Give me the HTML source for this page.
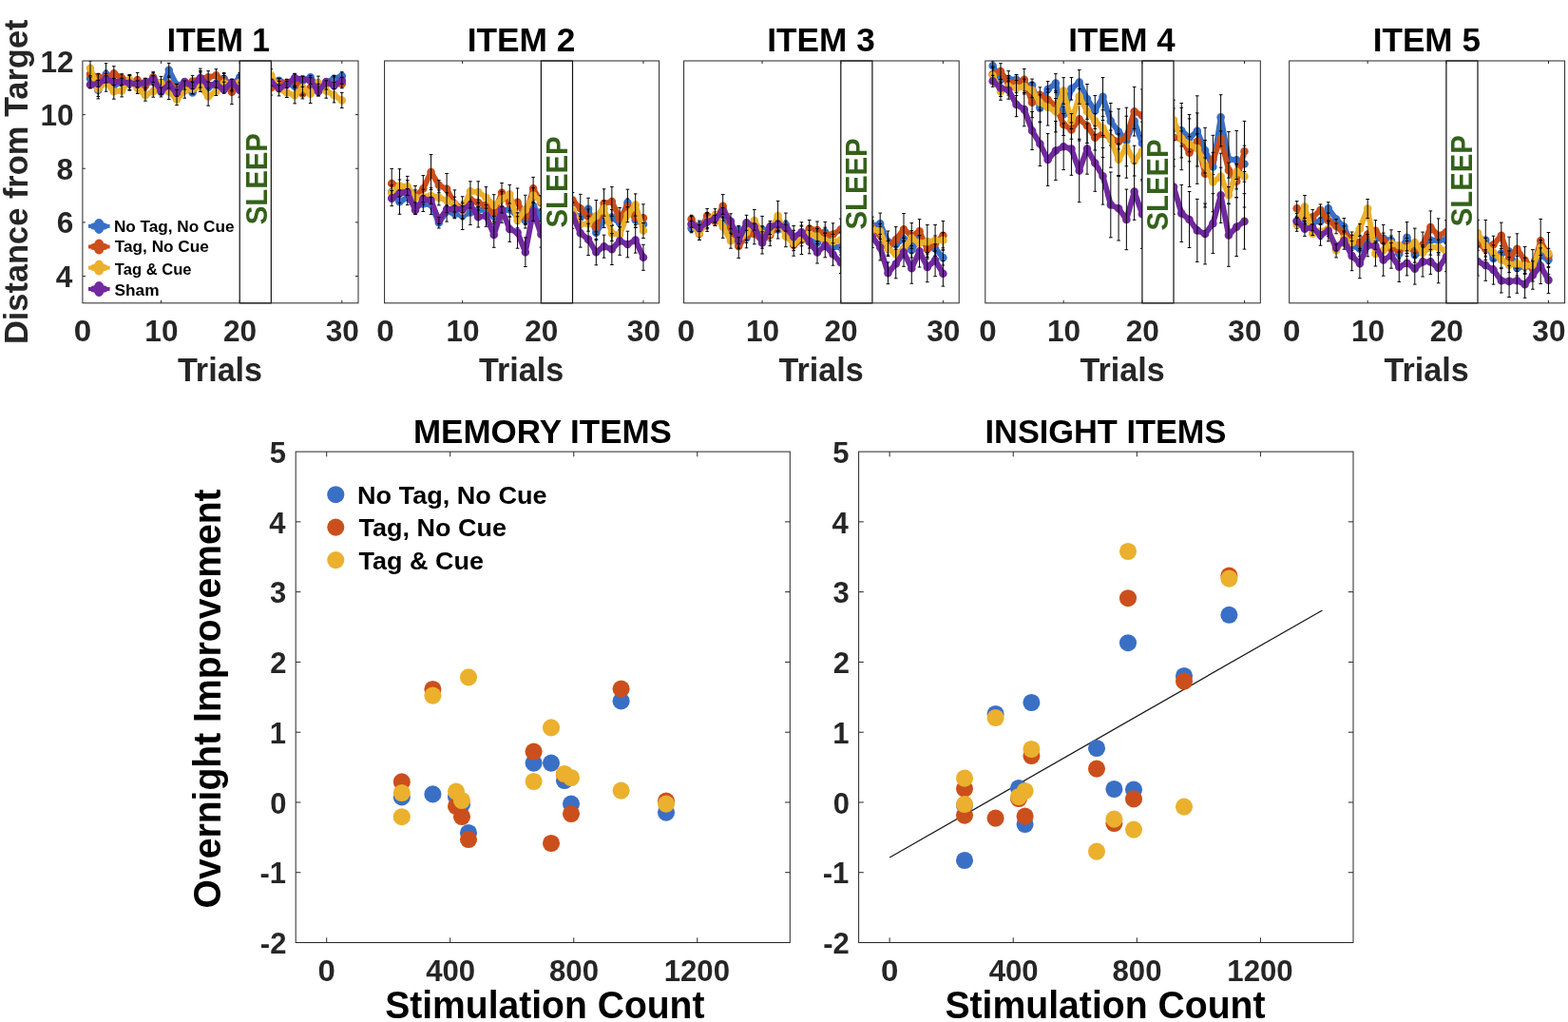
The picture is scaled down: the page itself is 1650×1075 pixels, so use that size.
<!DOCTYPE html>
<html lang="en"><head><meta charset="utf-8"><title>Figure</title>
<style>html,body{margin:0;padding:0;background:#fff;}body{width:1650px;height:1075px;overflow:hidden;}svg{display:block;}text{font-family:"Liberation Sans", Arial, Helvetica, sans-serif;font-weight:bold;}</style></head><body>
<svg width="1650" height="1075" viewBox="0 0 1650 1075">
<rect width="1650" height="1075" fill="#fff"/>
<defs>
<clipPath id="c0"><rect x="86.9" y="64" width="290.1" height="254.8"/></clipPath>
<clipPath id="c1"><rect x="404.6" y="64" width="289" height="254.8"/></clipPath>
<clipPath id="c2"><rect x="719.6" y="64" width="289.6" height="254.8"/></clipPath>
<clipPath id="c3"><rect x="1036.8" y="64" width="289.5" height="254.8"/></clipPath>
<clipPath id="c4"><rect x="1356.7" y="64" width="289.9" height="254.8"/></clipPath>
</defs>
<g id="item1">
<g clip-path="url(#c0)">
<polyline points="95.02,82.4 103.3,94.8 111.57,78.4 119.85,89.8 128.12,86.8 136.39,87.5 144.67,88.8 152.94,89.5 161.22,84.8 169.49,96.8 177.76,73.7 186.04,89.5 194.31,88 202.59,97.5 210.86,84 219.13,92 227.41,88 235.68,82.8 243.96,90 252.23,81.4" fill="none" stroke="#3a6fc6" stroke-width="5.9" stroke-linejoin="round" stroke-linecap="round"/>
<polyline points="285.33,85 293.6,84.8 301.87,88 310.15,90.8 318.42,85 326.7,81.4 334.97,92 343.24,87 351.52,82.8 359.79,80.1" fill="none" stroke="#3a6fc6" stroke-width="5.9" stroke-linejoin="round" stroke-linecap="round"/>
<path d="M95.02 82.4h0M103.3 94.8h0M111.57 78.4h0M119.85 89.8h0M128.12 86.8h0M136.39 87.5h0M144.67 88.8h0M152.94 89.5h0M161.22 84.8h0M169.49 96.8h0M177.76 73.7h0M186.04 89.5h0M194.31 88h0M202.59 97.5h0M210.86 84h0M219.13 92h0M227.41 88h0M235.68 82.8h0M243.96 90h0M252.23 81.4h0M285.33 85h0M293.6 84.8h0M301.87 88h0M310.15 90.8h0M318.42 85h0M326.7 81.4h0M334.97 92h0M343.24 87h0M351.52 82.8h0M359.79 80.1h0" fill="none" stroke="#3a6fc6" stroke-width="8.6" stroke-linecap="round"/>
<path d="M95.02 74.4V90.4M93.22 74.4H96.82M93.22 90.4H96.82M103.3 85.7V103.9M101.5 85.7H105.1M101.5 103.9H105.1M111.57 66.7V90.1M109.77 66.7H113.37M109.77 90.1H113.37M119.85 81.8V97.8M118.05 81.8H121.65M118.05 97.8H121.65M128.12 78.8V94.8M126.32 78.8H129.92M126.32 94.8H129.92M136.39 79.5V94.8M134.59 79.5H138.19M134.59 94.8H138.19M144.67 80.8V96.8M142.87 80.8H146.47M142.87 96.8H146.47M152.94 82.4V97.5M151.14 82.4H154.74M151.14 97.5H154.74M161.22 76.8V92.8M159.42 76.8H163.02M159.42 92.8H163.02M169.49 88.8V101.9M167.69 88.8H171.29M167.69 101.9H171.29M177.76 66.4V81.7M175.96 66.4H179.56M175.96 81.7H179.56M186.04 88.4V97.5M184.24 88.4H187.84M184.24 97.5H187.84M194.31 85V96M192.51 85H196.11M192.51 96H196.11M202.59 89.5V98.8M200.79 89.5H204.39M200.79 98.8H204.39M210.86 76V92M209.06 76H212.66M209.06 92H212.66M219.13 84V100M217.33 84H220.93M217.33 100H220.93M227.41 80V96M225.61 80H229.21M225.61 96H229.21M235.68 76.4V90.8M233.88 76.4H237.48M233.88 90.8H237.48M243.96 83.4V98M242.16 83.4H245.76M242.16 98H245.76M252.23 76.4V89.4M250.43 76.4H254.03M250.43 89.4H254.03M285.33 77V93M283.53 77H287.13M283.53 93H287.13M293.6 82.4V92.8M291.8 82.4H295.4M291.8 92.8H295.4M301.87 83.4V96M300.07 83.4H303.67M300.07 96H303.67M310.15 82.8V98.8M308.35 82.8H311.95M308.35 98.8H311.95M318.42 80.4V93M316.62 80.4H320.22M316.62 93H320.22M326.7 79.4V89.4M324.9 79.4H328.5M324.9 89.4H328.5M334.97 84V100M333.17 84H336.77M333.17 100H336.77M343.24 84.8V95M341.44 84.8H345.04M341.44 95H345.04M351.52 79.4V90.8M349.72 79.4H353.32M349.72 90.8H353.32M359.79 75.7V88.1M357.99 75.7H361.59M357.99 88.1H361.59" fill="none" stroke="#000" stroke-width="1.0"/>
<polyline points="95.02,78.1 103.3,80.8 111.57,82 119.85,77.4 128.12,82.1 136.39,86.8 144.67,84.4 152.94,90.1 161.22,81.4 169.49,91.5 177.76,88.1 186.04,93.5 194.31,90 202.59,85.5 210.86,82.5 219.13,81.4 227.41,79.4 235.68,85.5 243.96,96.8 252.23,90" fill="none" stroke="#cb4f1c" stroke-width="5.9" stroke-linejoin="round" stroke-linecap="round"/>
<polyline points="285.33,92.2 293.6,88.1 301.87,87 310.15,84 318.42,98.5 326.7,92.5 334.97,93 343.24,88 351.52,89 359.79,88.1" fill="none" stroke="#cb4f1c" stroke-width="5.9" stroke-linejoin="round" stroke-linecap="round"/>
<path d="M95.02 78.1h0M103.3 80.8h0M111.57 82h0M119.85 77.4h0M128.12 82.1h0M136.39 86.8h0M144.67 84.4h0M152.94 90.1h0M161.22 81.4h0M169.49 91.5h0M177.76 88.1h0M186.04 93.5h0M194.31 90h0M202.59 85.5h0M210.86 82.5h0M219.13 81.4h0M227.41 79.4h0M235.68 85.5h0M243.96 96.8h0M252.23 90h0M285.33 92.2h0M293.6 88.1h0M301.87 87h0M310.15 84h0M318.42 98.5h0M326.7 92.5h0M334.97 93h0M343.24 88h0M351.52 89h0M359.79 88.1h0" fill="none" stroke="#cb4f1c" stroke-width="8.6" stroke-linecap="round"/>
<path d="M95.02 70.1V86.1M93.22 70.1H96.82M93.22 86.1H96.82M103.3 77.7V88.8M101.5 77.7H105.1M101.5 88.8H105.1M111.57 74V90M109.77 74H113.37M109.77 90H113.37M119.85 69.7V85.4M118.05 69.7H121.65M118.05 85.4H121.65M128.12 77.7V90.1M126.32 77.7H129.92M126.32 90.1H129.92M136.39 78.8V94.8M134.59 78.8H138.19M134.59 94.8H138.19M144.67 76.4V92.4M142.87 76.4H146.47M142.87 92.4H146.47M152.94 82.4V98.1M151.14 82.4H154.74M151.14 98.1H154.74M161.22 75.7V89.4M159.42 75.7H163.02M159.42 89.4H163.02M169.49 83.5V99.5M167.69 83.5H171.29M167.69 99.5H171.29M177.76 80.1V96.1M175.96 80.1H179.56M175.96 96.1H179.56M186.04 88.4V101.5M184.24 88.4H187.84M184.24 101.5H187.84M194.31 85V98M192.51 85H196.11M192.51 98H196.11M202.59 79.4V93.5M200.79 79.4H204.39M200.79 93.5H204.39M210.86 74.5V90.5M209.06 74.5H212.66M209.06 90.5H212.66M219.13 74.7V89.4M217.33 74.7H220.93M217.33 89.4H220.93M227.41 72.7V87.4M225.61 72.7H229.21M225.61 87.4H229.21M235.68 77.5V93.5M233.88 77.5H237.48M233.88 93.5H237.48M243.96 84V109.6M242.16 84H245.76M242.16 109.6H245.76M252.23 82V98M250.43 82H254.03M250.43 98H254.03M285.33 84.2V100M283.53 84.2H287.13M283.53 100H287.13M293.6 82.4V96.1M291.8 82.4H295.4M291.8 96.1H295.4M301.87 83.4V95M300.07 83.4H303.67M300.07 95H303.67M310.15 77.4V92M308.35 77.4H311.95M308.35 92H311.95M318.42 90.5V103.9M316.62 90.5H320.22M316.62 103.9H320.22M326.7 84.5V100.5M324.9 84.5H328.5M324.9 100.5H328.5M334.97 85V100.9M333.17 85H336.77M333.17 100.9H336.77M343.24 84.8V96M341.44 84.8H345.04M341.44 96H345.04M351.52 81V97M349.72 81H353.32M349.72 97H353.32M359.79 83.1V92.8M357.99 83.1H361.59M357.99 92.8H361.59" fill="none" stroke="#000" stroke-width="1.0"/>
<polyline points="95.02,71.7 103.3,93.5 111.57,86.8 119.85,96.2 128.12,95.5 136.39,84.1 144.67,92.8 152.94,100.2 161.22,96.2 169.49,87.5 177.76,96.5 186.04,104.5 194.31,95.5 202.59,93.5 210.86,91.5 219.13,101.5 227.41,96.2 235.68,87.5 243.96,88 252.23,86.8" fill="none" stroke="#ebb02d" stroke-width="5.9" stroke-linejoin="round" stroke-linecap="round"/>
<polyline points="285.33,79.4 293.6,93.5 301.87,97.5 310.15,100.2 318.42,92 326.7,98.8 334.97,87.5 343.24,95.5 351.52,100.2 359.79,105.5" fill="none" stroke="#ebb02d" stroke-width="5.9" stroke-linejoin="round" stroke-linecap="round"/>
<path d="M95.02 71.7h0M103.3 93.5h0M111.57 86.8h0M119.85 96.2h0M128.12 95.5h0M136.39 84.1h0M144.67 92.8h0M152.94 100.2h0M161.22 96.2h0M169.49 87.5h0M177.76 96.5h0M186.04 104.5h0M194.31 95.5h0M202.59 93.5h0M210.86 91.5h0M219.13 101.5h0M227.41 96.2h0M235.68 87.5h0M243.96 88h0M252.23 86.8h0M285.33 79.4h0M293.6 93.5h0M301.87 97.5h0M310.15 100.2h0M318.42 92h0M326.7 98.8h0M334.97 87.5h0M343.24 95.5h0M351.52 100.2h0M359.79 105.5h0" fill="none" stroke="#ebb02d" stroke-width="8.6" stroke-linecap="round"/>
<path d="M95.02 64V79.7M93.22 64H96.82M93.22 79.7H96.82M103.3 85.5V101.5M101.5 85.5H105.1M101.5 101.5H105.1M111.57 77.4V96.2M109.77 77.4H113.37M109.77 96.2H113.37M119.85 88.2V104.2M118.05 88.2H121.65M118.05 104.2H121.65M128.12 87.5V101.9M126.32 87.5H129.92M126.32 101.9H129.92M136.39 78.4V92.1M134.59 78.4H138.19M134.59 92.1H138.19M144.67 84.8V98.5M142.87 84.8H146.47M142.87 98.5H146.47M152.94 92.2V106.2M151.14 92.2H154.74M151.14 106.2H154.74M161.22 88.2V102.2M159.42 88.2H163.02M159.42 102.2H163.02M169.49 80.4V95.5M167.69 80.4H171.29M167.69 95.5H171.29M177.76 88.5V104.5M175.96 88.5H179.56M175.96 104.5H179.56M186.04 96.5V110.6M184.24 96.5H187.84M184.24 110.6H187.84M194.31 87.5V103.2M192.51 87.5H196.11M192.51 103.2H196.11M202.59 85.5V98.8M200.79 85.5H204.39M200.79 98.8H204.39M210.86 83.5V96.5M209.06 83.5H212.66M209.06 96.5H212.66M219.13 91.8V111.2M217.33 91.8H220.93M217.33 111.2H220.93M227.41 88.2V100.5M225.61 88.2H229.21M225.61 100.5H229.21M235.68 79.5V95.5M233.88 79.5H237.48M233.88 95.5H237.48M243.96 83.4V96M242.16 83.4H245.76M242.16 96H245.76M252.23 78.8V94.8M250.43 78.8H254.03M250.43 94.8H254.03M285.33 72.7V87.4M283.53 72.7H287.13M283.53 87.4H287.13M293.6 85.5V100.9M291.8 85.5H295.4M291.8 100.9H295.4M301.87 89.5V102.5M300.07 89.5H303.67M300.07 102.5H303.67M310.15 91.5V108.9M308.35 91.5H311.95M308.35 108.9H311.95M318.42 84V100M316.62 84H320.22M316.62 100H320.22M326.7 89V108.6M324.9 89H328.5M324.9 108.6H328.5M334.97 80.1V95.5M333.17 80.1H336.77M333.17 95.5H336.77M343.24 87.5V103.2M341.44 87.5H345.04M341.44 103.2H345.04M351.52 92.2V107.9M349.72 92.2H353.32M349.72 107.9H353.32M359.79 97.4V113.6M357.99 97.4H361.59M357.99 113.6H361.59" fill="none" stroke="#000" stroke-width="1.0"/>
<polyline points="95.02,89.1 103.3,87.8 111.57,83.4 119.85,86.1 128.12,85.8 136.39,87.5 144.67,88.5 152.94,86.8 161.22,83.1 169.49,95.5 177.76,89.5 186.04,97.8 194.31,86.1 202.59,90.1 210.86,82.1 219.13,89.5 227.41,88.8 235.68,94.2 243.96,86.8 252.23,94.8" fill="none" stroke="#7129a0" stroke-width="5.9" stroke-linejoin="round" stroke-linecap="round"/>
<polyline points="285.33,86.8 293.6,92.8 301.87,88.8 310.15,82.1 318.42,83.4 326.7,84.8 334.97,96.2 343.24,86.1 351.52,90.1 359.79,84.8" fill="none" stroke="#7129a0" stroke-width="5.9" stroke-linejoin="round" stroke-linecap="round"/>
<path d="M95.02 89.1h0M103.3 87.8h0M111.57 83.4h0M119.85 86.1h0M128.12 85.8h0M136.39 87.5h0M144.67 88.5h0M152.94 86.8h0M161.22 83.1h0M169.49 95.5h0M177.76 89.5h0M186.04 97.8h0M194.31 86.1h0M202.59 90.1h0M210.86 82.1h0M219.13 89.5h0M227.41 88.8h0M235.68 94.2h0M243.96 86.8h0M252.23 94.8h0M285.33 86.8h0M293.6 92.8h0M301.87 88.8h0M310.15 82.1h0M318.42 83.4h0M326.7 84.8h0M334.97 96.2h0M343.24 86.1h0M351.52 90.1h0M359.79 84.8h0" fill="none" stroke="#7129a0" stroke-width="8.6" stroke-linecap="round"/>
<path d="M95.02 81.1V92.8M93.22 81.1H96.82M93.22 92.8H96.82M103.3 84.3V91.3M101.5 84.3H105.1M101.5 91.3H105.1M111.57 79.9V86.9M109.77 79.9H113.37M109.77 86.9H113.37M119.85 82.6V89.6M118.05 82.6H121.65M118.05 89.6H121.65M128.12 82.3V89.3M126.32 82.3H129.92M126.32 89.3H129.92M136.39 79.5V94.8M134.59 79.5H138.19M134.59 94.8H138.19M144.67 85V92M142.87 85H146.47M142.87 92H146.47M152.94 82.4V94.8M151.14 82.4H154.74M151.14 94.8H154.74M161.22 79.6V86.6M159.42 79.6H163.02M159.42 86.6H163.02M169.49 92V99M167.69 92H171.29M167.69 99H171.29M177.76 86V93M175.96 86H179.56M175.96 93H179.56M186.04 94.3V101.3M184.24 94.3H187.84M184.24 101.3H187.84M194.31 85V94.1M192.51 85H196.11M192.51 94.1H196.11M202.59 86.6V93.6M200.79 86.6H204.39M200.79 93.6H204.39M210.86 72.1V92.1M209.06 72.1H212.66M209.06 92.1H212.66M219.13 86V93M217.33 86H220.93M217.33 93H220.93M227.41 85.3V92.3M225.61 85.3H229.21M225.61 92.3H229.21M235.68 86.2V98.2M233.88 86.2H237.48M233.88 98.2H237.48M243.96 83.4V94.8M242.16 83.4H245.76M242.16 94.8H245.76M252.23 86.8V102.2M250.43 86.8H254.03M250.43 102.2H254.03M285.33 83.3V90.3M283.53 83.3H287.13M283.53 90.3H287.13M293.6 89.3V96.3M291.8 89.3H295.4M291.8 96.3H295.4M301.87 85.3V92.3M300.07 85.3H303.67M300.07 92.3H303.67M310.15 77.4V90.1M308.35 77.4H311.95M308.35 90.1H311.95M318.42 80.4V91.4M316.62 80.4H320.22M316.62 91.4H320.22M326.7 81.3V88.3M324.9 81.3H328.5M324.9 88.3H328.5M334.97 88.2V100.9M333.17 88.2H336.77M333.17 100.9H336.77M343.24 84.8V94.1M341.44 84.8H345.04M341.44 94.1H345.04M351.52 86.6V93.6M349.72 86.6H353.32M349.72 93.6H353.32M359.79 81.3V88.3M357.99 81.3H361.59M357.99 88.3H361.59" fill="none" stroke="#000" stroke-width="1.0"/>
</g>
<rect x="252.23" y="64" width="33.1" height="254.8" fill="#fff" stroke="#111" stroke-width="1.2"/>
<text font-size="31.8" fill="#34611a" transform="translate(280.63 236.33) rotate(-90) scale(0.9224 1)">SLEEP</text>
<rect x="86.9" y="64" width="290.1" height="254.8" fill="none" stroke="#262626" stroke-width="1"/>
<path d="M169.49 318.8v-3M169.49 64v3M252.23 318.8v-3M252.23 64v3M359.79 318.8v-3M359.79 64v3M86.9 290.49h3M377 290.49h-3M86.9 233.87h3M377 233.87h-3M86.9 177.24h3M377 177.24h-3M86.9 120.62h3M377 120.62h-3" fill="none" stroke="#262626" stroke-width="1"/>
<text font-size="31.6" fill="#262626" transform="translate(77.69 359.3) scale(1.0500 1)">0</text>
<text font-size="31.6" fill="#262626" transform="translate(152.36 359.3) scale(1.0000 1)">10</text>
<text font-size="31.6" fill="#262626" transform="translate(234.97 359.3) scale(1.0000 1)">20</text>
<text font-size="31.6" fill="#262626" transform="translate(342.69 359.3) scale(1.0000 1)">30</text>
<text font-size="34.5" fill="#262626" transform="translate(186.89 401.3) scale(0.9900 1)">Trials</text>
<text font-size="35.2" fill="#000" transform="translate(175.82 54.3) scale(0.9530 1)">ITEM 1</text>
<text font-size="31.6" fill="#262626" transform="translate(58.82 302.09) scale(1.0000 1)">4</text>
<text font-size="31.6" fill="#262626" transform="translate(59.77 245.47) scale(1.0000 1)">6</text>
<text font-size="31.6" fill="#262626" transform="translate(59.61 188.84) scale(1.0000 1)">8</text>
<text font-size="31.6" fill="#262626" transform="translate(42.39 132.22) scale(1.0000 1)">10</text>
<text font-size="31.6" fill="#262626" transform="translate(42.39 75.6) scale(1.0000 1)">12</text>
<text font-size="35.2" fill="#262626" transform="translate(29 362.04) rotate(-90) scale(0.9774 1)">Distance from Target</text>
<path d="M93 237.9H115.6" stroke="#3a6fc6" stroke-width="4" fill="none"/>
<path d="M98.6 237.9H109.8M101 237.9H107.4" stroke="#3a6fc6" stroke-width="7" stroke-linecap="round" fill="none"/>
<ellipse cx="104.2" cy="237.9" rx="5.6" ry="8" fill="#3a6fc6"/>
<text font-size="17.4" fill="#000" transform="translate(119.88 243.8) scale(0.9882 1)">No Tag, No Cue</text>
<path d="M93 259.5H115.6" stroke="#cb4f1c" stroke-width="4" fill="none"/>
<path d="M98.6 259.5H109.8M101 259.5H107.4" stroke="#cb4f1c" stroke-width="7" stroke-linecap="round" fill="none"/>
<ellipse cx="104.2" cy="259.5" rx="5.6" ry="8" fill="#cb4f1c"/>
<text font-size="17.4" fill="#000" transform="translate(120.83 265) scale(0.9875 1)">Tag, No Cue</text>
<path d="M93 281.6H115.6" stroke="#ebb02d" stroke-width="4" fill="none"/>
<path d="M98.6 281.6H109.8M101 281.6H107.4" stroke="#ebb02d" stroke-width="7" stroke-linecap="round" fill="none"/>
<ellipse cx="104.2" cy="281.6" rx="5.6" ry="8" fill="#ebb02d"/>
<text font-size="17.4" fill="#000" transform="translate(120.83 288.8) scale(0.9529 1)">Tag &amp; Cue</text>
<path d="M93 304H115.6" stroke="#7129a0" stroke-width="4" fill="none"/>
<path d="M98.6 304H109.8M101 304H107.4" stroke="#7129a0" stroke-width="7" stroke-linecap="round" fill="none"/>
<ellipse cx="104.2" cy="304" rx="5.6" ry="8" fill="#7129a0"/>
<text font-size="17.4" fill="#000" transform="translate(120.48 310.6) scale(0.9921 1)">Sham</text>
</g>
<g id="item2">
<g clip-path="url(#c1)">
<polyline points="412.2,202.1 420.48,212.3 428.75,207.9 437.03,217.4 445.3,214.5 453.57,215.2 461.85,234.2 470.12,222.5 478.4,224.6 486.67,226.8 494.94,223.5 503.22,221 511.49,220.6 519.77,227.5 528.04,222 536.31,220.2 544.59,227.5 552.86,232 561.14,216.5 569.41,229" fill="none" stroke="#3a6fc6" stroke-width="5.9" stroke-linejoin="round" stroke-linecap="round"/>
<polyline points="602.51,224 610.78,228.6 619.05,219.9 627.33,244.8 635.6,231.5 643.88,228.6 652.15,234.5 660.42,213.4 668.7,231.5 676.97,235.9" fill="none" stroke="#3a6fc6" stroke-width="5.9" stroke-linejoin="round" stroke-linecap="round"/>
<path d="M412.2 202.1h0M420.48 212.3h0M428.75 207.9h0M437.03 217.4h0M445.3 214.5h0M453.57 215.2h0M461.85 234.2h0M470.12 222.5h0M478.4 224.6h0M486.67 226.8h0M494.94 223.5h0M503.22 221h0M511.49 220.6h0M519.77 227.5h0M528.04 222h0M536.31 220.2h0M544.59 227.5h0M552.86 232h0M561.14 216.5h0M569.41 229h0M602.51 224h0M610.78 228.6h0M619.05 219.9h0M627.33 244.8h0M635.6 231.5h0M643.88 228.6h0M652.15 234.5h0M660.42 213.4h0M668.7 231.5h0M676.97 235.9h0" fill="none" stroke="#3a6fc6" stroke-width="8.6" stroke-linecap="round"/>
<path d="M412.2 194.1V210.1M410.4 194.1H414M410.4 210.1H414M420.48 199.3V225.3M418.68 199.3H422.28M418.68 225.3H422.28M428.75 199.9V215.6M426.95 199.9H430.55M426.95 215.6H430.55M437.03 209.4V225.4M435.23 209.4H438.83M435.23 225.4H438.83M445.3 206.5V222.5M443.5 206.5H447.1M443.5 222.5H447.1M453.57 204.9V225.5M451.77 204.9H455.37M451.77 225.5H455.37M461.85 226.2V240M460.05 226.2H463.65M460.05 240H463.65M470.12 211.9V233.1M468.32 211.9H471.92M468.32 233.1H471.92M478.4 216.6V229.8M476.6 216.6H480.2M476.6 229.8H480.2M486.67 212.1V241.5M484.87 212.1H488.47M484.87 241.5H488.47M494.94 210.6V236.4M493.14 210.6H496.74M493.14 236.4H496.74M503.22 213V229M501.42 213H505.02M501.42 229H505.02M511.49 212.6V228.6M509.69 212.6H513.29M509.69 228.6H513.29M519.77 219.5V235.5M517.97 219.5H521.57M517.97 235.5H521.57M528.04 209.7V234.3M526.24 209.7H529.84M526.24 234.3H529.84M536.31 212.2V228.2M534.51 212.2H538.11M534.51 228.2H538.11M544.59 219.5V235.5M542.79 219.5H546.39M542.79 235.5H546.39M552.86 224V240M551.06 224H554.66M551.06 240H554.66M561.14 208.5V224.5M559.34 208.5H562.94M559.34 224.5H562.94M569.41 221V237M567.61 221H571.21M567.61 237H571.21M602.51 216V232M600.71 216H604.31M600.71 232H604.31M610.78 220.6V236.6M608.98 220.6H612.58M608.98 236.6H612.58M619.05 208.3V231.5M617.25 208.3H620.85M617.25 231.5H620.85M627.33 236.8V252.8M625.53 236.8H629.13M625.53 252.8H629.13M635.6 223.5V239.5M633.8 223.5H637.4M633.8 239.5H637.4M643.88 220.6V236.6M642.08 220.6H645.68M642.08 236.6H645.68M652.15 226.5V242.5M650.35 226.5H653.95M650.35 242.5H653.95M660.42 199.2V227.6M658.62 199.2H662.22M658.62 227.6H662.22M668.7 223.5V239.5M666.9 223.5H670.5M666.9 239.5H670.5M676.97 227.9V243.9M675.17 227.9H678.77M675.17 243.9H678.77" fill="none" stroke="#000" stroke-width="1.0"/>
<polyline points="412.2,193 420.48,197 428.75,197.7 437.03,206.5 445.3,198.5 453.57,181 461.85,194.8 470.12,198.8 478.4,214.5 486.67,218.8 494.94,210.1 503.22,213 511.49,216.6 519.77,224 528.04,202.7 536.31,213.6 544.59,212.9 552.86,228.2 561.14,198.4 569.41,213" fill="none" stroke="#cb4f1c" stroke-width="5.9" stroke-linejoin="round" stroke-linecap="round"/>
<polyline points="602.51,210.5 610.78,219.2 619.05,228 627.33,238.8 635.6,214.1 643.88,212 652.15,230.1 660.42,217 668.7,228.6 676.97,229.4" fill="none" stroke="#cb4f1c" stroke-width="5.9" stroke-linejoin="round" stroke-linecap="round"/>
<path d="M412.2 193h0M420.48 197h0M428.75 197.7h0M437.03 206.5h0M445.3 198.5h0M453.57 181h0M461.85 194.8h0M470.12 198.8h0M478.4 214.5h0M486.67 218.8h0M494.94 210.1h0M503.22 213h0M511.49 216.6h0M519.77 224h0M528.04 202.7h0M536.31 213.6h0M544.59 212.9h0M552.86 228.2h0M561.14 198.4h0M569.41 213h0M602.51 210.5h0M610.78 219.2h0M619.05 228h0M627.33 238.8h0M635.6 214.1h0M643.88 212h0M652.15 230.1h0M660.42 217h0M668.7 228.6h0M676.97 229.4h0" fill="none" stroke="#cb4f1c" stroke-width="8.6" stroke-linecap="round"/>
<path d="M412.2 177.4V208.6M410.4 177.4H414M410.4 208.6H414M420.48 189V205M418.68 189H422.28M418.68 205H422.28M428.75 189.7V205.7M426.95 189.7H430.55M426.95 205.7H430.55M437.03 195.5V217.5M435.23 195.5H438.83M435.23 217.5H438.83M445.3 184.6V212.4M443.5 184.6H447.1M443.5 212.4H447.1M453.57 162.5V199.5M451.77 162.5H455.37M451.77 199.5H455.37M461.85 189.7V202.8M460.05 189.7H463.65M460.05 202.8H463.65M470.12 182.5V215.1M468.32 182.5H471.92M468.32 215.1H471.92M478.4 199.9V229.1M476.6 199.9H480.2M476.6 229.1H480.2M486.67 206.8V230.8M484.87 206.8H488.47M484.87 230.8H488.47M494.94 202.1V218.1M493.14 202.1H496.74M493.14 218.1H496.74M503.22 205V221M501.42 205H505.02M501.42 221H505.02M511.49 208.6V224.6M509.69 208.6H513.29M509.69 224.6H513.29M519.77 216V232M517.97 216H521.57M517.97 232H521.57M528.04 192.5V212.9M526.24 192.5H529.84M526.24 212.9H529.84M536.31 205.6V221.6M534.51 205.6H538.11M534.51 221.6H538.11M544.59 198V227.8M542.79 198H546.39M542.79 227.8H546.39M552.86 220.2V236.2M551.06 220.2H554.66M551.06 236.2H554.66M561.14 186.4V210.4M559.34 186.4H562.94M559.34 210.4H562.94M569.41 205.6V221M567.61 205.6H571.21M567.61 221H571.21M602.51 202.5V218.5M600.71 202.5H604.31M600.71 218.5H604.31M610.78 204.3V234.1M608.98 204.3H612.58M608.98 234.1H612.58M619.05 220V236M617.25 220H620.85M617.25 236H620.85M627.33 230.8V246.8M625.53 230.8H629.13M625.53 246.8H629.13M635.6 198.8V229.4M633.8 198.8H637.4M633.8 229.4H637.4M643.88 196.6V227.4M642.08 196.6H645.68M642.08 227.4H645.68M652.15 218.5V241.7M650.35 218.5H653.95M650.35 241.7H653.95M660.42 209V225M658.62 209H662.22M658.62 225H662.22M668.7 220.6V236.6M666.9 220.6H670.5M666.9 236.6H670.5M676.97 214.8V244M675.17 214.8H678.77M675.17 244H678.77" fill="none" stroke="#000" stroke-width="1.0"/>
<polyline points="412.2,202.8 420.48,195.5 428.75,196.3 437.03,207.9 445.3,207.2 453.57,205.7 461.85,207.9 470.12,210.8 478.4,215.2 486.67,221.7 494.94,201.4 503.22,202.1 511.49,207.9 519.77,216 528.04,209.3 536.31,204.2 544.59,231.8 552.86,220.5 561.14,205.6 569.41,211.7" fill="none" stroke="#ebb02d" stroke-width="5.9" stroke-linejoin="round" stroke-linecap="round"/>
<polyline points="602.51,221.4 610.78,235.9 619.05,235.2 627.33,227.2 635.6,219.2 643.88,245.4 652.15,246.8 660.42,225.7 668.7,215.5 676.97,242.5" fill="none" stroke="#ebb02d" stroke-width="5.9" stroke-linejoin="round" stroke-linecap="round"/>
<path d="M412.2 202.8h0M420.48 195.5h0M428.75 196.3h0M437.03 207.9h0M445.3 207.2h0M453.57 205.7h0M461.85 207.9h0M470.12 210.8h0M478.4 215.2h0M486.67 221.7h0M494.94 201.4h0M503.22 202.1h0M511.49 207.9h0M519.77 216h0M528.04 209.3h0M536.31 204.2h0M544.59 231.8h0M552.86 220.5h0M561.14 205.6h0M569.41 211.7h0M602.51 221.4h0M610.78 235.9h0M619.05 235.2h0M627.33 227.2h0M635.6 219.2h0M643.88 245.4h0M652.15 246.8h0M660.42 225.7h0M668.7 215.5h0M676.97 242.5h0" fill="none" stroke="#ebb02d" stroke-width="8.6" stroke-linecap="round"/>
<path d="M412.2 194.8V210.8M410.4 194.8H414M410.4 210.8H414M420.48 177.7V213.3M418.68 177.7H422.28M418.68 213.3H422.28M428.75 185.4V207.2M426.95 185.4H430.55M426.95 207.2H430.55M437.03 199.9V215.9M435.23 199.9H438.83M435.23 215.9H438.83M445.3 199.2V215.2M443.5 199.2H447.1M443.5 215.2H447.1M453.57 197.7V213.7M451.77 197.7H455.37M451.77 213.7H455.37M461.85 199.9V215.9M460.05 199.9H463.65M460.05 215.9H463.65M470.12 202.8V218.8M468.32 202.8H471.92M468.32 218.8H471.92M478.4 207.2V223.2M476.6 207.2H480.2M476.6 223.2H480.2M486.67 213.7V229.7M484.87 213.7H488.47M484.87 229.7H488.47M494.94 190.8V212M493.14 190.8H496.74M493.14 212H496.74M503.22 190.8V213.4M501.42 190.8H505.02M501.42 213.4H505.02M511.49 196.6V219.2M509.69 196.6H513.29M509.69 219.2H513.29M519.77 204.7V227.3M517.97 204.7H521.57M517.97 227.3H521.57M528.04 201.3V217.3M526.24 201.3H529.84M526.24 217.3H529.84M536.31 194.4V214M534.51 194.4H538.11M534.51 214H538.11M544.59 223.8V239.8M542.79 223.8H546.39M542.79 239.8H546.39M552.86 205.3V235.7M551.06 205.3H554.66M551.06 235.7H554.66M561.14 197.6V213.6M559.34 197.6H562.94M559.34 213.6H562.94M569.41 205.6V219.7M567.61 205.6H571.21M567.61 219.7H571.21M602.51 213.4V229.4M600.71 213.4H604.31M600.71 229.4H604.31M610.78 227.9V243.9M608.98 227.9H612.58M608.98 243.9H612.58M619.05 227.2V243.2M617.25 227.2H620.85M617.25 243.2H620.85M627.33 210.5V243.9M625.53 210.5H629.13M625.53 243.9H629.13M635.6 211.2V227.2M633.8 211.2H637.4M633.8 227.2H637.4M643.88 237.4V253.4M642.08 237.4H645.68M642.08 253.4H645.68M652.15 238.8V254.8M650.35 238.8H653.95M650.35 254.8H653.95M660.42 217.7V233.7M658.62 217.7H662.22M658.62 233.7H662.22M668.7 203.9V227.1M666.9 203.9H670.5M666.9 227.1H670.5M676.97 234.5V250.5M675.17 234.5H678.77M675.17 250.5H678.77" fill="none" stroke="#000" stroke-width="1.0"/>
<polyline points="412.2,208.6 420.48,203.5 428.75,202.1 437.03,221 445.3,209.4 453.57,210.8 461.85,232 470.12,220.3 478.4,219.5 486.67,220.3 494.94,215.5 503.22,228.3 511.49,227 519.77,247 528.04,220.5 536.31,241 544.59,244.5 552.86,265.2 561.14,222.3 569.41,246.5" fill="none" stroke="#7129a0" stroke-width="5.9" stroke-linejoin="round" stroke-linecap="round"/>
<polyline points="602.51,226.5 610.78,245.3 619.05,251.9 627.33,265.2 635.6,259.2 643.88,262.1 652.15,253.4 660.42,257 668.7,252.6 676.97,270.8" fill="none" stroke="#7129a0" stroke-width="5.9" stroke-linejoin="round" stroke-linecap="round"/>
<path d="M412.2 208.6h0M420.48 203.5h0M428.75 202.1h0M437.03 221h0M445.3 209.4h0M453.57 210.8h0M461.85 232h0M470.12 220.3h0M478.4 219.5h0M486.67 220.3h0M494.94 215.5h0M503.22 228.3h0M511.49 227h0M519.77 247h0M528.04 220.5h0M536.31 241h0M544.59 244.5h0M552.86 265.2h0M561.14 222.3h0M569.41 246.5h0M602.51 226.5h0M610.78 245.3h0M619.05 251.9h0M627.33 265.2h0M635.6 259.2h0M643.88 262.1h0M652.15 253.4h0M660.42 257h0M668.7 252.6h0M676.97 270.8h0" fill="none" stroke="#7129a0" stroke-width="8.6" stroke-linecap="round"/>
<path d="M412.2 200.5V216.7M410.4 200.5H414M410.4 216.7H414M420.48 200V207M418.68 200H422.28M418.68 207H422.28M428.75 198.6V205.6M426.95 198.6H430.55M426.95 205.6H430.55M437.03 213V225.5M435.23 213H438.83M435.23 225.5H438.83M445.3 205.9V212.9M443.5 205.9H447.1M443.5 212.9H447.1M453.57 207.3V214.3M451.77 207.3H455.37M451.77 214.3H455.37M461.85 228.5V235.5M460.05 228.5H463.65M460.05 235.5H463.65M470.12 216.8V223.8M468.32 216.8H471.92M468.32 223.8H471.92M478.4 216V223M476.6 216H480.2M476.6 223H480.2M486.67 216.8V223.8M484.87 216.8H488.47M484.87 223.8H488.47M494.94 212V219M493.14 212H496.74M493.14 219H496.74M503.22 217.6V239M501.42 217.6H505.02M501.42 239H505.02M511.49 215.7V238.3M509.69 215.7H513.29M509.69 238.3H513.29M519.77 233.7V260.3M517.97 233.7H521.57M517.97 260.3H521.57M528.04 217V224M526.24 217H529.84M526.24 224H529.84M536.31 227.7V254.3M534.51 227.7H538.11M534.51 254.3H538.11M544.59 227.8V261.2M542.79 227.8H546.39M542.79 261.2H546.39M552.86 249.9V280.5M551.06 249.9H554.66M551.06 280.5H554.66M561.14 212.2V232.4M559.34 212.2H562.94M559.34 232.4H562.94M569.41 232.9V260.1M567.61 232.9H571.21M567.61 260.1H571.21M602.51 212.7V240.3M600.71 212.7H604.31M600.71 240.3H604.31M610.78 230.5V260.1M608.98 230.5H612.58M608.98 260.1H612.58M619.05 235.2V268.6M617.25 235.2H620.85M617.25 268.6H620.85M627.33 251.6V278.8M625.53 251.6H629.13M625.53 278.8H629.13M635.6 247.2V271.2M633.8 247.2H637.4M633.8 271.2H637.4M643.88 245.7V278.5M642.08 245.7H645.68M642.08 278.5H645.68M652.15 238.5V268.3M650.35 238.5H653.95M650.35 268.3H653.95M660.42 243.2V270.8M658.62 243.2H662.22M658.62 270.8H662.22M668.7 239.1V266.1M666.9 239.1H670.5M666.9 266.1H670.5M676.97 257.3V284.3M675.17 257.3H678.77M675.17 284.3H678.77" fill="none" stroke="#000" stroke-width="1.0"/>
</g>
<rect x="569.41" y="64" width="33.1" height="254.8" fill="#fff" stroke="#111" stroke-width="1.2"/>
<text font-size="31.8" fill="#34611a" transform="translate(597.01 239.53) rotate(-90) scale(0.9224 1)">SLEEP</text>
<rect x="404.6" y="64" width="289" height="254.8" fill="none" stroke="#262626" stroke-width="1"/>
<path d="M486.67 318.8v-3M486.67 64v3M569.41 318.8v-3M569.41 64v3M676.97 318.8v-3M676.97 64v3" fill="none" stroke="#262626" stroke-width="1"/>
<text font-size="31.6" fill="#262626" transform="translate(396.29 359.3) scale(1.0500 1)">0</text>
<text font-size="31.6" fill="#262626" transform="translate(469.54 359.3) scale(1.0000 1)">10</text>
<text font-size="31.6" fill="#262626" transform="translate(552.15 359.3) scale(1.0000 1)">20</text>
<text font-size="31.6" fill="#262626" transform="translate(659.87 359.3) scale(1.0000 1)">30</text>
<text font-size="34.5" fill="#262626" transform="translate(504.07 401.3) scale(0.9900 1)">Trials</text>
<text font-size="35.2" fill="#000" transform="translate(491.7 54.3) scale(1.0032 1)">ITEM 2</text>
</g>
<g id="item3">
<g clip-path="url(#c2)">
<polyline points="727.6,240.1 735.88,237.2 744.15,231.4 752.43,230.6 760.7,224.1 768.97,244.5 777.25,241.5 785.52,250.3 793.8,241.5 802.07,241.5 810.34,242.3 818.62,241.5 826.89,236.5 835.17,250.3 843.44,246 851.71,253 859.99,255.2 868.26,244.3 876.54,259.5 884.81,260" fill="none" stroke="#3a6fc6" stroke-width="5.9" stroke-linejoin="round" stroke-linecap="round"/>
<polyline points="917.91,237.5 926.18,235.4 934.45,254.3 942.73,257.2 951,251.4 959.28,263 967.55,250.6 975.82,259 984.1,261.5 992.37,271" fill="none" stroke="#3a6fc6" stroke-width="5.9" stroke-linejoin="round" stroke-linecap="round"/>
<path d="M727.6 240.1h0M735.88 237.2h0M744.15 231.4h0M752.43 230.6h0M760.7 224.1h0M768.97 244.5h0M777.25 241.5h0M785.52 250.3h0M793.8 241.5h0M802.07 241.5h0M810.34 242.3h0M818.62 241.5h0M826.89 236.5h0M835.17 250.3h0M843.44 246h0M851.71 253h0M859.99 255.2h0M868.26 244.3h0M876.54 259.5h0M884.81 260h0M917.91 237.5h0M926.18 235.4h0M934.45 254.3h0M942.73 257.2h0M951 251.4h0M959.28 263h0M967.55 250.6h0M975.82 259h0M984.1 261.5h0M992.37 271h0" fill="none" stroke="#3a6fc6" stroke-width="8.6" stroke-linecap="round"/>
<path d="M727.6 232.1V244.8M725.8 232.1H729.4M725.8 244.8H729.4M735.88 232.1V245.2M734.08 232.1H737.68M734.08 245.2H737.68M744.15 223.4V239.4M742.35 223.4H745.95M742.35 239.4H745.95M752.43 222.6V237.5M750.63 222.6H754.23M750.63 237.5H754.23M760.7 216.1V232.1M758.9 216.1H762.5M758.9 232.1H762.5M768.97 236.5V252.5M767.17 236.5H770.77M767.17 252.5H770.77M777.25 237.5V249.5M775.45 237.5H779.05M775.45 249.5H779.05M785.52 239.8V260.8M783.72 239.8H787.32M783.72 260.8H787.32M793.8 233.5V249.5M792 233.5H795.6M792 249.5H795.6M802.07 227.4V255.6M800.27 227.4H803.87M800.27 255.6H803.87M810.34 234.3V250.3M808.54 234.3H812.14M808.54 250.3H812.14M818.62 232V251M816.82 232H820.42M816.82 251H820.42M826.89 224.1V248.9M825.09 224.1H828.69M825.09 248.9H828.69M835.17 242.3V258.3M833.37 242.3H836.97M833.37 258.3H836.97M843.44 238V254M841.64 238H845.24M841.64 254H845.24M851.71 245V261M849.91 245H853.51M849.91 261H853.51M859.99 247.2V263.2M858.19 247.2H861.79M858.19 263.2H861.79M868.26 233.4V255.2M866.46 233.4H870.06M866.46 255.2H870.06M876.54 251.5V267.5M874.74 251.5H878.34M874.74 267.5H878.34M884.81 252V268M883.01 252H886.61M883.01 268H886.61M917.91 228.1V246.9M916.11 228.1H919.71M916.11 246.9H919.71M926.18 224.1V246.7M924.38 224.1H927.98M924.38 246.7H927.98M934.45 243V265.6M932.65 243H936.25M932.65 265.6H936.25M942.73 249.2V265.2M940.93 249.2H944.53M940.93 265.2H944.53M951 243.4V259.4M949.2 243.4H952.8M949.2 259.4H952.8M959.28 255V271M957.48 255H961.08M957.48 271H961.08M967.55 242.6V258.6M965.75 242.6H969.35M965.75 258.6H969.35M975.82 251V267M974.02 251H977.62M974.02 267H977.62M984.1 253.5V269.5M982.3 253.5H985.9M982.3 269.5H985.9M992.37 263V279M990.57 263H994.17M990.57 279H994.17" fill="none" stroke="#000" stroke-width="1.0"/>
<polyline points="727.6,230.6 735.88,245.9 744.15,227 752.43,232.8 760.7,216.8 768.97,238.6 777.25,259 785.52,247.4 793.8,245.9 802.07,253.2 810.34,247.4 818.62,235.7 826.89,240.1 835.17,257.8 843.44,252.3 851.71,240.6 859.99,242.1 868.26,247.2 876.54,246.5 884.81,241.4" fill="none" stroke="#cb4f1c" stroke-width="5.9" stroke-linejoin="round" stroke-linecap="round"/>
<polyline points="917.91,240 926.18,247 934.45,260.1 942.73,252.1 951,241.2 959.28,248 967.55,243.4 975.82,262.3 984.1,256 992.37,247.7" fill="none" stroke="#cb4f1c" stroke-width="5.9" stroke-linejoin="round" stroke-linecap="round"/>
<path d="M727.6 230.6h0M735.88 245.9h0M744.15 227h0M752.43 232.8h0M760.7 216.8h0M768.97 238.6h0M777.25 259h0M785.52 247.4h0M793.8 245.9h0M802.07 253.2h0M810.34 247.4h0M818.62 235.7h0M826.89 240.1h0M835.17 257.8h0M843.44 252.3h0M851.71 240.6h0M859.99 242.1h0M868.26 247.2h0M876.54 246.5h0M884.81 241.4h0M917.91 240h0M926.18 247h0M934.45 260.1h0M942.73 252.1h0M951 241.2h0M959.28 248h0M967.55 243.4h0M975.82 262.3h0M984.1 256h0M992.37 247.7h0" fill="none" stroke="#cb4f1c" stroke-width="8.6" stroke-linecap="round"/>
<path d="M727.6 226.3V238.6M725.8 226.3H729.4M725.8 238.6H729.4M735.88 237.9V252.5M734.08 237.9H737.68M734.08 252.5H737.68M744.15 219.4V235M742.35 219.4H745.95M742.35 235H745.95M752.43 224.8V237.5M750.63 224.8H754.23M750.63 237.5H754.23M760.7 204.5V229.1M758.9 204.5H762.5M758.9 229.1H762.5M768.97 230.6V246.6M767.17 230.6H770.77M767.17 246.6H770.77M777.25 246.6V271.4M775.45 246.6H779.05M775.45 271.4H779.05M785.52 239.4V255.4M783.72 239.4H787.32M783.72 255.4H787.32M793.8 235V256.8M792 235H795.6M792 256.8H795.6M802.07 245.2V261.2M800.27 245.2H803.87M800.27 261.2H803.87M810.34 236.2V258.6M808.54 236.2H812.14M808.54 258.6H812.14M818.62 227.7V243.7M816.82 227.7H820.42M816.82 243.7H820.42M826.89 232.1V248.1M825.09 232.1H828.69M825.09 248.1H828.69M835.17 246.4V269.2M833.37 246.4H836.97M833.37 269.2H836.97M843.44 237.1V267.5M841.64 237.1H845.24M841.64 267.5H845.24M851.71 231.5V249.7M849.91 231.5H853.51M849.91 249.7H853.51M859.99 233V251.2M858.19 233H861.79M858.19 251.2H861.79M868.26 239.2V255.2M866.46 239.2H870.06M866.46 255.2H870.06M876.54 234.8V258.2M874.74 234.8H878.34M874.74 258.2H878.34M884.81 230.1V252.7M883.01 230.1H886.61M883.01 252.7H886.61M917.91 232V248M916.11 232H919.71M916.11 248H919.71M926.18 239V255M924.38 239H927.98M924.38 255H927.98M934.45 252.1V268.1M932.65 252.1H936.25M932.65 268.1H936.25M942.73 238.6V265.6M940.93 238.6H944.53M940.93 265.6H944.53M951 224.5V257.9M949.2 224.5H952.8M949.2 257.9H952.8M959.28 234.6V261.4M957.48 234.6H961.08M957.48 261.4H961.08M967.55 230.6V256.2M965.75 230.6H969.35M965.75 256.2H969.35M975.82 254.3V270.3M974.02 254.3H977.62M974.02 270.3H977.62M984.1 248V264M982.3 248H985.9M982.3 264H985.9M992.37 232.5V262.9M990.57 232.5H994.17M990.57 262.9H994.17" fill="none" stroke="#000" stroke-width="1.0"/>
<polyline points="727.6,235.7 735.88,245.2 744.15,232.8 752.43,226.3 760.7,238.6 768.97,253.2 777.25,253.2 785.52,244.5 793.8,232.1 802.07,245.9 810.34,245.2 818.62,227 826.89,248.8 835.17,255.6 843.44,250.8 851.71,245.7 859.99,248.6 868.26,253 876.54,254.5 884.81,252.3" fill="none" stroke="#ebb02d" stroke-width="5.9" stroke-linejoin="round" stroke-linecap="round"/>
<polyline points="917.91,240.8 926.18,243.4 934.45,261.5 942.73,267.4 951,261.5 959.28,250.6 967.55,255.7 975.82,254.3 984.1,252.8 992.37,252.8" fill="none" stroke="#ebb02d" stroke-width="5.9" stroke-linejoin="round" stroke-linecap="round"/>
<path d="M727.6 235.7h0M735.88 245.2h0M744.15 232.8h0M752.43 226.3h0M760.7 238.6h0M768.97 253.2h0M777.25 253.2h0M785.52 244.5h0M793.8 232.1h0M802.07 245.9h0M810.34 245.2h0M818.62 227h0M826.89 248.8h0M835.17 255.6h0M843.44 250.8h0M851.71 245.7h0M859.99 248.6h0M868.26 253h0M876.54 254.5h0M884.81 252.3h0M917.91 240.8h0M926.18 243.4h0M934.45 261.5h0M942.73 267.4h0M951 261.5h0M959.28 250.6h0M967.55 255.7h0M975.82 254.3h0M984.1 252.8h0M992.37 252.8h0" fill="none" stroke="#ebb02d" stroke-width="8.6" stroke-linecap="round"/>
<path d="M727.6 227.7V243.7M725.8 227.7H729.4M725.8 243.7H729.4M735.88 237.2V252.5M734.08 237.2H737.68M734.08 252.5H737.68M744.15 224.8V240.8M742.35 224.8H745.95M742.35 240.8H745.95M752.43 219.7V234.3M750.63 219.7H754.23M750.63 234.3H754.23M760.7 226.9V250.3M758.9 226.9H762.5M758.9 250.3H762.5M768.97 245.2V261.2M767.17 245.2H770.77M767.17 261.2H770.77M777.25 245.2V261.2M775.45 245.2H779.05M775.45 261.2H779.05M785.52 236.5V252.5M783.72 236.5H787.32M783.72 252.5H787.32M793.8 220.5V243.7M792 220.5H795.6M792 243.7H795.6M802.07 237.9V253.9M800.27 237.9H803.87M800.27 253.9H803.87M810.34 237.2V253.2M808.54 237.2H812.14M808.54 253.2H812.14M818.62 211.4V242.6M816.82 211.4H820.42M816.82 242.6H820.42M826.89 237.9V259.7M825.09 237.9H828.69M825.09 259.7H828.69M835.17 247.6V263.6M833.37 247.6H836.97M833.37 263.6H836.97M843.44 242.8V258.8M841.64 242.8H845.24M841.64 258.8H845.24M851.71 237.7V253.7M849.91 237.7H853.51M849.91 253.7H853.51M859.99 240.6V256.6M858.19 240.6H861.79M858.19 256.6H861.79M868.26 245V261M866.46 245H870.06M866.46 261H870.06M876.54 246.5V262.5M874.74 246.5H878.34M874.74 262.5H878.34M884.81 244.3V260.3M883.01 244.3H886.61M883.01 260.3H886.61M917.91 232.8V248.8M916.11 232.8H919.71M916.11 248.8H919.71M926.18 235.4V251.4M924.38 235.4H927.98M924.38 251.4H927.98M934.45 253.5V269.5M932.65 253.5H936.25M932.65 269.5H936.25M942.73 259.4V275.4M940.93 259.4H944.53M940.93 275.4H944.53M951 253.5V269.5M949.2 253.5H952.8M949.2 269.5H952.8M959.28 242.6V258.6M957.48 242.6H961.08M957.48 258.6H961.08M967.55 247.7V263.7M965.75 247.7H969.35M965.75 263.7H969.35M975.82 236.5V272.1M974.02 236.5H977.62M974.02 272.1H977.62M984.1 236.5V269.1M982.3 236.5H985.9M982.3 269.1H985.9M992.37 244.8V260.8M990.57 244.8H994.17M990.57 260.8H994.17" fill="none" stroke="#000" stroke-width="1.0"/>
<polyline points="727.6,235.7 735.88,240.1 744.15,233.5 752.43,229.9 760.7,221.9 768.97,232.8 777.25,253.2 785.52,234.3 793.8,238.6 802.07,255.4 810.34,238.6 818.62,235.7 826.89,239.6 835.17,249.1 843.44,244.3 851.71,254.5 859.99,265.4 868.26,258.1 876.54,267.5 884.81,276.3" fill="none" stroke="#7129a0" stroke-width="5.9" stroke-linejoin="round" stroke-linecap="round"/>
<polyline points="917.91,249.2 926.18,260.1 934.45,287.3 942.73,277.5 951,265.3 959.28,282.2 967.55,264.4 975.82,281 984.1,273.7 992.37,287.8" fill="none" stroke="#7129a0" stroke-width="5.9" stroke-linejoin="round" stroke-linecap="round"/>
<path d="M727.6 235.7h0M735.88 240.1h0M744.15 233.5h0M752.43 229.9h0M760.7 221.9h0M768.97 232.8h0M777.25 253.2h0M785.52 234.3h0M793.8 238.6h0M802.07 255.4h0M810.34 238.6h0M818.62 235.7h0M826.89 239.6h0M835.17 249.1h0M843.44 244.3h0M851.71 254.5h0M859.99 265.4h0M868.26 258.1h0M876.54 267.5h0M884.81 276.3h0M917.91 249.2h0M926.18 260.1h0M934.45 287.3h0M942.73 277.5h0M951 265.3h0M959.28 282.2h0M967.55 264.4h0M975.82 281h0M984.1 273.7h0M992.37 287.8h0" fill="none" stroke="#7129a0" stroke-width="8.6" stroke-linecap="round"/>
<path d="M727.6 232.2V239.2M725.8 232.2H729.4M725.8 239.2H729.4M735.88 236.6V243.6M734.08 236.6H737.68M734.08 243.6H737.68M744.15 223.6V243.4M742.35 223.6H745.95M742.35 243.4H745.95M752.43 226.4V233.4M750.63 226.4H754.23M750.63 233.4H754.23M760.7 218.4V225.4M758.9 218.4H762.5M758.9 225.4H762.5M768.97 224.8V240.8M767.17 224.8H770.77M767.17 240.8H770.77M777.25 249.7V256.7M775.45 249.7H779.05M775.45 256.7H779.05M785.52 226.3V242.3M783.72 226.3H787.32M783.72 242.3H787.32M793.8 235.1V242.1M792 235.1H795.6M792 242.1H795.6M802.07 243.8V267M800.27 243.8H803.87M800.27 267H803.87M810.34 232.5V246.6M808.54 232.5H812.14M808.54 246.6H812.14M818.62 232.2V239.2M816.82 232.2H820.42M816.82 239.2H820.42M826.89 236.1V243.1M825.09 236.1H828.69M825.09 243.1H828.69M835.17 237.5V260.7M833.37 237.5H836.97M833.37 260.7H836.97M843.44 233.7V254.9M841.64 233.7H845.24M841.64 254.9H845.24M851.71 242.2V266.8M849.91 242.2H853.51M849.91 266.8H853.51M859.99 253.8V277M858.19 253.8H861.79M858.19 277H861.79M868.26 245.4V270.8M866.46 245.4H870.06M866.46 270.8H870.06M876.54 255.8V279.2M874.74 255.8H878.34M874.74 279.2H878.34M884.81 265.1V287.5M883.01 265.1H886.61M883.01 287.5H886.61M917.91 237.9V260.5M916.11 237.9H919.71M916.11 260.5H919.71M926.18 246.3V273.9M924.38 246.3H927.98M924.38 273.9H927.98M934.45 275.9V298.7M932.65 275.9H936.25M932.65 298.7H936.25M942.73 262.2V292.8M940.93 262.2H944.53M940.93 292.8H944.53M951 250.3V280.3M949.2 250.3H952.8M949.2 280.3H952.8M959.28 266.2V298.2M957.48 266.2H961.08M957.48 298.2H961.08M967.55 247.8V281M965.75 247.8H969.35M965.75 281H969.35M975.82 265.3V296.7M974.02 265.3H977.62M974.02 296.7H977.62M984.1 256.7V290.7M982.3 256.7H985.9M982.3 290.7H985.9M992.37 274.5V301.1M990.57 274.5H994.17M990.57 301.1H994.17" fill="none" stroke="#000" stroke-width="1.0"/>
</g>
<rect x="884.81" y="64" width="33.1" height="254.8" fill="#fff" stroke="#111" stroke-width="1.2"/>
<text font-size="31.8" fill="#34611a" transform="translate(912.41 241.53) rotate(-90) scale(0.9224 1)">SLEEP</text>
<rect x="719.6" y="64" width="289.6" height="254.8" fill="none" stroke="#262626" stroke-width="1"/>
<path d="M802.07 318.8v-3M802.07 64v3M884.81 318.8v-3M884.81 64v3M992.37 318.8v-3M992.37 64v3" fill="none" stroke="#262626" stroke-width="1"/>
<text font-size="31.6" fill="#262626" transform="translate(712.79 359.3) scale(1.0500 1)">0</text>
<text font-size="31.6" fill="#262626" transform="translate(784.94 359.3) scale(1.0000 1)">10</text>
<text font-size="31.6" fill="#262626" transform="translate(867.55 359.3) scale(1.0000 1)">20</text>
<text font-size="31.6" fill="#262626" transform="translate(975.27 359.3) scale(1.0000 1)">30</text>
<text font-size="34.5" fill="#262626" transform="translate(819.47 401.3) scale(0.9900 1)">Trials</text>
<text font-size="35.2" fill="#000" transform="translate(807.31 54.3) scale(0.9998 1)">ITEM 3</text>
</g>
<g id="item4">
<g clip-path="url(#c3)">
<polyline points="1044.7,69.3 1052.98,83.8 1061.25,83.1 1069.53,83.8 1077.8,89.6 1086.07,89.6 1094.35,113.6 1102.62,94 1110.9,87.5 1119.17,120.2 1127.44,93.3 1135.72,86.6 1143.99,104.1 1152.27,116.5 1160.54,101.9 1168.81,127.4 1177.09,138.5 1185.36,148 1193.64,127.4 1201.91,150.8" fill="none" stroke="#3a6fc6" stroke-width="5.9" stroke-linejoin="round" stroke-linecap="round"/>
<polyline points="1235.01,135 1243.28,137.2 1251.55,145.2 1259.83,137.9 1268.1,158.3 1276.38,175.5 1284.65,123.4 1292.92,167.5 1301.2,168.2 1309.47,172.5" fill="none" stroke="#3a6fc6" stroke-width="5.9" stroke-linejoin="round" stroke-linecap="round"/>
<path d="M1044.7 69.3h0M1052.98 83.8h0M1061.25 83.1h0M1069.53 83.8h0M1077.8 89.6h0M1086.07 89.6h0M1094.35 113.6h0M1102.62 94h0M1110.9 87.5h0M1119.17 120.2h0M1127.44 93.3h0M1135.72 86.6h0M1143.99 104.1h0M1152.27 116.5h0M1160.54 101.9h0M1168.81 127.4h0M1177.09 138.5h0M1185.36 148h0M1193.64 127.4h0M1201.91 150.8h0M1235.01 135h0M1243.28 137.2h0M1251.55 145.2h0M1259.83 137.9h0M1268.1 158.3h0M1276.38 175.5h0M1284.65 123.4h0M1292.92 167.5h0M1301.2 168.2h0M1309.47 172.5h0" fill="none" stroke="#3a6fc6" stroke-width="8.6" stroke-linecap="round"/>
<path d="M1044.7 64.2V77.3M1042.9 64.2H1046.5M1042.9 77.3H1046.5M1052.98 75.8V91.8M1051.18 75.8H1054.78M1051.18 91.8H1054.78M1061.25 74.7V91.5M1059.45 74.7H1063.05M1059.45 91.5H1063.05M1069.53 78.4V91.8M1067.73 78.4H1071.33M1067.73 91.8H1071.33M1077.8 81.6V97.6M1076 81.6H1079.6M1076 97.6H1079.6M1086.07 83.1V97.6M1084.27 83.1H1087.87M1084.27 97.6H1087.87M1094.35 98.4V128.8M1092.55 98.4H1096.15M1092.55 128.8H1096.15M1102.62 85.6V102.4M1100.82 85.6H1104.42M1100.82 102.4H1104.42M1110.9 77.6V97.4M1109.1 77.6H1112.7M1109.1 97.4H1112.7M1119.17 112.2V128.2M1117.37 112.2H1120.97M1117.37 128.2H1120.97M1127.44 81.5V105.1M1125.64 81.5H1129.24M1125.64 105.1H1129.24M1135.72 73.6V99.6M1133.92 73.6H1137.52M1133.92 99.6H1137.52M1143.99 88.5V119.7M1142.19 88.5H1145.79M1142.19 119.7H1145.79M1152.27 100.5V132.5M1150.47 100.5H1154.07M1150.47 132.5H1154.07M1160.54 81.5V122.3M1158.74 81.5H1162.34M1158.74 122.3H1162.34M1168.81 108.5V146.3M1167.01 108.5H1170.61M1167.01 146.3H1170.61M1177.09 114.6V162.4M1175.29 114.6H1178.89M1175.29 162.4H1178.89M1185.36 140V156M1183.56 140H1187.16M1183.56 156H1187.16M1193.64 119.4V135.4M1191.84 119.4H1195.44M1191.84 135.4H1195.44M1201.91 142.8V158.8M1200.11 142.8H1203.71M1200.11 158.8H1203.71M1235.01 127V143M1233.21 127H1236.81M1233.21 143H1236.81M1243.28 108.5V165.9M1241.48 108.5H1245.08M1241.48 165.9H1245.08M1251.55 120.5V169.9M1249.75 120.5H1253.35M1249.75 169.9H1253.35M1259.83 100.8V175M1258.03 100.8H1261.63M1258.03 175H1261.63M1268.1 134.3V182.3M1266.3 134.3H1269.9M1266.3 182.3H1269.9M1276.38 167.5V183.5M1274.58 167.5H1278.18M1274.58 183.5H1278.18M1284.65 99.7V147.1M1282.85 99.7H1286.45M1282.85 147.1H1286.45M1292.92 138.6V196.4M1291.12 138.6H1294.72M1291.12 196.4H1294.72M1301.2 137.5V198.9M1299.4 137.5H1303M1299.4 198.9H1303M1309.47 164.5V180.5M1307.67 164.5H1311.27M1307.67 180.5H1311.27" fill="none" stroke="#000" stroke-width="1.0"/>
<polyline points="1044.7,78 1052.98,75.1 1061.25,87.5 1069.53,86.7 1077.8,83.8 1086.07,107.8 1094.35,99.8 1102.62,104.9 1110.9,111.5 1119.17,131 1127.44,136.4 1135.72,125.2 1143.99,132.3 1152.27,144.7 1160.54,140.7 1168.81,145 1177.09,148.9 1185.36,144 1193.64,117.2 1201.91,121.5" fill="none" stroke="#cb4f1c" stroke-width="5.9" stroke-linejoin="round" stroke-linecap="round"/>
<polyline points="1235.01,144.5 1243.28,146 1251.55,160.7 1259.83,148.8 1268.1,182.7 1276.38,167.7 1284.65,145.9 1292.92,179.1 1301.2,190.7 1309.47,159.3" fill="none" stroke="#cb4f1c" stroke-width="5.9" stroke-linejoin="round" stroke-linecap="round"/>
<path d="M1044.7 78h0M1052.98 75.1h0M1061.25 87.5h0M1069.53 86.7h0M1077.8 83.8h0M1086.07 107.8h0M1094.35 99.8h0M1102.62 104.9h0M1110.9 111.5h0M1119.17 131h0M1127.44 136.4h0M1135.72 125.2h0M1143.99 132.3h0M1152.27 144.7h0M1160.54 140.7h0M1168.81 145h0M1177.09 148.9h0M1185.36 144h0M1193.64 117.2h0M1201.91 121.5h0M1235.01 144.5h0M1243.28 146h0M1251.55 160.7h0M1259.83 148.8h0M1268.1 182.7h0M1276.38 167.7h0M1284.65 145.9h0M1292.92 179.1h0M1301.2 190.7h0M1309.47 159.3h0" fill="none" stroke="#cb4f1c" stroke-width="8.6" stroke-linecap="round"/>
<path d="M1044.7 70V86M1042.9 70H1046.5M1042.9 86H1046.5M1052.98 66.7V83.5M1051.18 66.7H1054.78M1051.18 83.5H1054.78M1061.25 79.5V95.5M1059.45 79.5H1063.05M1059.45 95.5H1063.05M1069.53 78.7V94.7M1067.73 78.7H1071.33M1067.73 94.7H1071.33M1077.8 72.5V95.1M1076 72.5H1079.6M1076 95.1H1079.6M1086.07 91.9V123.7M1084.27 91.9H1087.87M1084.27 123.7H1087.87M1094.35 91.8V107.8M1092.55 91.8H1096.15M1092.55 107.8H1096.15M1102.62 96.9V112.9M1100.82 96.9H1104.42M1100.82 112.9H1104.42M1110.9 103.5V119.5M1109.1 103.5H1112.7M1109.1 119.5H1112.7M1119.17 119.5V142.5M1117.37 119.5H1120.97M1117.37 142.5H1120.97M1127.44 126.6V146.2M1125.64 126.6H1129.24M1125.64 146.2H1129.24M1135.72 102.4V148M1133.92 102.4H1137.52M1133.92 148H1137.52M1143.99 114.1V150.5M1142.19 114.1H1145.79M1142.19 150.5H1145.79M1152.27 131.4V158M1150.47 131.4H1154.07M1150.47 158H1154.07M1160.54 115.8V165.6M1158.74 115.8H1162.34M1158.74 165.6H1162.34M1168.81 137V153M1167.01 137H1170.61M1167.01 153H1170.61M1177.09 140.9V156.9M1175.29 140.9H1178.89M1175.29 156.9H1178.89M1185.36 113.2V174.8M1183.56 113.2H1187.16M1183.56 174.8H1187.16M1193.64 91.4V143M1191.84 91.4H1195.44M1191.84 143H1195.44M1201.91 93.9V149.1M1200.11 93.9H1203.71M1200.11 149.1H1203.71M1235.01 114V175M1233.21 114H1236.81M1233.21 175H1236.81M1243.28 113.3V178.7M1241.48 113.3H1245.08M1241.48 178.7H1245.08M1251.55 124.9V196.5M1249.75 124.9H1253.35M1249.75 196.5H1253.35M1259.83 140.8V156.8M1258.03 140.8H1261.63M1258.03 156.8H1261.63M1268.1 147.4V218M1266.3 147.4H1269.9M1266.3 218H1269.9M1276.38 142.3V193.1M1274.58 142.3H1278.18M1274.58 193.1H1278.18M1284.65 137.9V153.9M1282.85 137.9H1286.45M1282.85 153.9H1286.45M1292.92 171.1V187.1M1291.12 171.1H1294.72M1291.12 187.1H1294.72M1301.2 173.9V207.5M1299.4 173.9H1303M1299.4 207.5H1303M1309.47 127.4V191.2M1307.67 127.4H1311.27M1307.67 191.2H1311.27" fill="none" stroke="#000" stroke-width="1.0"/>
<polyline points="1044.7,79.5 1052.98,96.2 1061.25,91.1 1069.53,92.5 1077.8,91.1 1086.07,94.7 1094.35,107.8 1102.62,112.9 1110.9,117.3 1119.17,95.5 1127.44,127.5 1135.72,101.3 1143.99,117.3 1152.27,127.4 1160.54,134.5 1168.81,146.7 1177.09,167.8 1185.36,154.7 1193.64,169.1 1201.91,159.1" fill="none" stroke="#ebb02d" stroke-width="5.9" stroke-linejoin="round" stroke-linecap="round"/>
<polyline points="1235.01,126.3 1243.28,145.9 1251.55,151.7 1259.83,156.1 1268.1,174 1276.38,191.5 1284.65,185.6 1292.92,205.3 1301.2,180.5 1309.47,185.6" fill="none" stroke="#ebb02d" stroke-width="5.9" stroke-linejoin="round" stroke-linecap="round"/>
<path d="M1044.7 79.5h0M1052.98 96.2h0M1061.25 91.1h0M1069.53 92.5h0M1077.8 91.1h0M1086.07 94.7h0M1094.35 107.8h0M1102.62 112.9h0M1110.9 117.3h0M1119.17 95.5h0M1127.44 127.5h0M1135.72 101.3h0M1143.99 117.3h0M1152.27 127.4h0M1160.54 134.5h0M1168.81 146.7h0M1177.09 167.8h0M1185.36 154.7h0M1193.64 169.1h0M1201.91 159.1h0M1235.01 126.3h0M1243.28 145.9h0M1251.55 151.7h0M1259.83 156.1h0M1268.1 174h0M1276.38 191.5h0M1284.65 185.6h0M1292.92 205.3h0M1301.2 180.5h0M1309.47 185.6h0" fill="none" stroke="#ebb02d" stroke-width="8.6" stroke-linecap="round"/>
<path d="M1044.7 71V88M1042.9 71H1046.5M1042.9 88H1046.5M1052.98 87.1V105.3M1051.18 87.1H1054.78M1051.18 105.3H1054.78M1061.25 82.2V100M1059.45 82.2H1063.05M1059.45 100H1063.05M1069.53 84.5V100.5M1067.73 84.5H1071.33M1067.73 100.5H1071.33M1077.8 83.1V99M1076 83.1H1079.6M1076 99H1079.6M1086.07 86.7V102.7M1084.27 86.7H1087.87M1084.27 102.7H1087.87M1094.35 99.8V115.8M1092.55 99.8H1096.15M1092.55 115.8H1096.15M1102.62 93.8V132M1100.82 93.8H1104.42M1100.82 132H1104.42M1110.9 95.7V138.9M1109.1 95.7H1112.7M1109.1 138.9H1112.7M1119.17 81.6V109.4M1117.37 81.6H1120.97M1117.37 109.4H1120.97M1127.44 119.5V135.5M1125.64 119.5H1129.24M1125.64 135.5H1129.24M1135.72 93.3V109.3M1133.92 93.3H1137.52M1133.92 109.3H1137.52M1143.99 109.3V125.3M1142.19 109.3H1145.79M1142.19 125.3H1145.79M1152.27 119.4V135.4M1150.47 119.4H1154.07M1150.47 135.4H1154.07M1160.54 126.5V142.5M1158.74 126.5H1162.34M1158.74 142.5H1162.34M1168.81 117.2V176.2M1167.01 117.2H1170.61M1167.01 176.2H1170.61M1177.09 151.1V184.5M1175.29 151.1H1178.89M1175.29 184.5H1178.89M1185.36 122.2V187.2M1183.56 122.2H1187.16M1183.56 187.2H1187.16M1193.64 153.2V185M1191.84 153.2H1195.44M1191.84 185H1195.44M1201.91 128.2V190M1200.11 128.2H1203.71M1200.11 190H1203.71M1235.01 105.2V147.4M1233.21 105.2H1236.81M1233.21 147.4H1236.81M1243.28 137.9V153.9M1241.48 137.9H1245.08M1241.48 153.9H1245.08M1251.55 143.7V159.7M1249.75 143.7H1253.35M1249.75 159.7H1253.35M1259.83 118.9V193.3M1258.03 118.9H1261.63M1258.03 193.3H1261.63M1268.1 166V182M1266.3 166H1269.9M1266.3 182H1269.9M1276.38 160.3V222.7M1274.58 160.3H1278.18M1274.58 222.7H1278.18M1284.65 161.2V210M1282.85 161.2H1286.45M1282.85 210H1286.45M1292.92 196.6V214M1291.12 196.6H1294.72M1291.12 214H1294.72M1301.2 172.5V188.5M1299.4 172.5H1303M1299.4 188.5H1303M1309.47 153.2V218M1307.67 153.2H1311.27M1307.67 218H1311.27" fill="none" stroke="#000" stroke-width="1.0"/>
<polyline points="1044.7,85.3 1052.98,92.5 1061.25,94.7 1069.53,110 1077.8,115.1 1086.07,137.5 1094.35,151.3 1102.62,168 1110.9,158.5 1119.17,154.2 1127.44,156.6 1135.72,179.5 1143.99,156.6 1152.27,171.5 1160.54,185.3 1168.81,215.4 1177.09,219.3 1185.36,230.9 1193.64,201.6 1201.91,225.1" fill="none" stroke="#7129a0" stroke-width="5.9" stroke-linejoin="round" stroke-linecap="round"/>
<polyline points="1235.01,196.5 1243.28,224.4 1251.55,231 1259.83,242.4 1268.1,246 1276.38,235.1 1284.65,205.3 1292.92,247.5 1301.2,238.7 1309.47,232.9" fill="none" stroke="#7129a0" stroke-width="5.9" stroke-linejoin="round" stroke-linecap="round"/>
<path d="M1044.7 85.3h0M1052.98 92.5h0M1061.25 94.7h0M1069.53 110h0M1077.8 115.1h0M1086.07 137.5h0M1094.35 151.3h0M1102.62 168h0M1110.9 158.5h0M1119.17 154.2h0M1127.44 156.6h0M1135.72 179.5h0M1143.99 156.6h0M1152.27 171.5h0M1160.54 185.3h0M1168.81 215.4h0M1177.09 219.3h0M1185.36 230.9h0M1193.64 201.6h0M1201.91 225.1h0M1235.01 196.5h0M1243.28 224.4h0M1251.55 231h0M1259.83 242.4h0M1268.1 246h0M1276.38 235.1h0M1284.65 205.3h0M1292.92 247.5h0M1301.2 238.7h0M1309.47 232.9h0" fill="none" stroke="#7129a0" stroke-width="8.6" stroke-linecap="round"/>
<path d="M1044.7 79.3V91.3M1042.9 79.3H1046.5M1042.9 91.3H1046.5M1052.98 83.5V101.5M1051.18 83.5H1054.78M1051.18 101.5H1054.78M1061.25 85.2V104.2M1059.45 85.2H1063.05M1059.45 104.2H1063.05M1069.53 97.3V122.7M1067.73 97.3H1071.33M1067.73 122.7H1071.33M1077.8 97.4V132.8M1076 97.4H1079.6M1076 132.8H1079.6M1086.07 117.5V157.5M1084.27 117.5H1087.87M1084.27 157.5H1087.87M1094.35 128V174.6M1092.55 128H1096.15M1092.55 174.6H1096.15M1102.62 140.6V195.4M1100.82 140.6H1104.42M1100.82 195.4H1104.42M1110.9 127.6V189.4M1109.1 127.6H1112.7M1109.1 189.4H1112.7M1119.17 129.8V178.6M1117.37 129.8H1120.97M1117.37 178.6H1120.97M1127.44 128.9V184.3M1125.64 128.9H1129.24M1125.64 184.3H1129.24M1135.72 146.3V212.7M1133.92 146.3H1137.52M1133.92 212.7H1137.52M1143.99 130V183.2M1142.19 130H1145.79M1142.19 183.2H1145.79M1152.27 141.7V201.3M1150.47 141.7H1154.07M1150.47 201.3H1154.07M1160.54 155.5V215.1M1158.74 155.5H1162.34M1158.74 215.1H1162.34M1168.81 181V249.8M1167.01 181H1170.61M1167.01 249.8H1170.61M1177.09 185.6V253M1175.29 185.6H1178.89M1175.29 253H1178.89M1185.36 199.1V262.7M1183.56 199.1H1187.16M1183.56 262.7H1187.16M1193.64 171.9V231.3M1191.84 171.9H1195.44M1191.84 231.3H1195.44M1201.91 188.7V261.5M1200.11 188.7H1203.71M1200.11 261.5H1203.71M1235.01 167.7V225.3M1233.21 167.7H1236.81M1233.21 225.3H1236.81M1243.28 194.4V254.4M1241.48 194.4H1245.08M1241.48 254.4H1245.08M1251.55 201.5V260.5M1249.75 201.5H1253.35M1249.75 260.5H1253.35M1259.83 209.4V275.4M1258.03 209.4H1261.63M1258.03 275.4H1261.63M1268.1 214.1V277.9M1266.3 214.1H1269.9M1266.3 277.9H1269.9M1276.38 203.7V266.5M1274.58 203.7H1278.18M1274.58 266.5H1278.18M1284.65 176.2V234.4M1282.85 176.2H1286.45M1282.85 234.4H1286.45M1292.92 214.7V280.3M1291.12 214.7H1294.72M1291.12 280.3H1294.72M1301.2 207.9V269.5M1299.4 207.9H1303M1299.4 269.5H1303M1309.47 203.7V262.1M1307.67 203.7H1311.27M1307.67 262.1H1311.27" fill="none" stroke="#000" stroke-width="1.0"/>
</g>
<rect x="1201.91" y="64" width="33.1" height="254.8" fill="#fff" stroke="#111" stroke-width="1.2"/>
<text font-size="31.8" fill="#34611a" transform="translate(1229.21 242.53) rotate(-90) scale(0.9224 1)">SLEEP</text>
<rect x="1036.8" y="64" width="289.5" height="254.8" fill="none" stroke="#262626" stroke-width="1"/>
<path d="M1119.17 318.8v-3M1119.17 64v3M1201.91 318.8v-3M1201.91 64v3M1309.47 318.8v-3M1309.47 64v3" fill="none" stroke="#262626" stroke-width="1"/>
<text font-size="31.6" fill="#262626" transform="translate(1030.29 359.3) scale(1.0500 1)">0</text>
<text font-size="31.6" fill="#262626" transform="translate(1102.04 359.3) scale(1.0000 1)">10</text>
<text font-size="31.6" fill="#262626" transform="translate(1184.65 359.3) scale(1.0000 1)">20</text>
<text font-size="31.6" fill="#262626" transform="translate(1292.37 359.3) scale(1.0000 1)">30</text>
<text font-size="34.5" fill="#262626" transform="translate(1136.57 401.3) scale(0.9900 1)">Trials</text>
<text font-size="35.2" fill="#000" transform="translate(1124.33 54.3) scale(0.9903 1)">ITEM 4</text>
</g>
<g id="item5">
<g clip-path="url(#c4)">
<polyline points="1364.69,232.5 1372.97,234.2 1381.24,234 1389.52,232.7 1397.79,219.3 1406.06,230.5 1414.34,238.5 1422.61,258.2 1430.89,261.8 1439.16,253.8 1447.43,250.9 1455.71,250.9 1463.98,253.1 1472.26,266.9 1480.53,249.9 1488.8,268.1 1497.08,264.5 1505.35,252.8 1513.63,252.8 1521.9,252.1" fill="none" stroke="#3a6fc6" stroke-width="5.9" stroke-linejoin="round" stroke-linecap="round"/>
<polyline points="1555,250 1563.27,252.5 1571.54,271.9 1579.82,266.6 1588.09,264.6 1596.37,282 1604.64,280 1612.91,281 1621.19,268.6 1629.46,273.3" fill="none" stroke="#3a6fc6" stroke-width="5.9" stroke-linejoin="round" stroke-linecap="round"/>
<path d="M1364.69 232.5h0M1372.97 234.2h0M1381.24 234h0M1389.52 232.7h0M1397.79 219.3h0M1406.06 230.5h0M1414.34 238.5h0M1422.61 258.2h0M1430.89 261.8h0M1439.16 253.8h0M1447.43 250.9h0M1455.71 250.9h0M1463.98 253.1h0M1472.26 266.9h0M1480.53 249.9h0M1488.8 268.1h0M1497.08 264.5h0M1505.35 252.8h0M1513.63 252.8h0M1521.9 252.1h0M1555 250h0M1563.27 252.5h0M1571.54 271.9h0M1579.82 266.6h0M1588.09 264.6h0M1596.37 282h0M1604.64 280h0M1612.91 281h0M1621.19 268.6h0M1629.46 273.3h0" fill="none" stroke="#3a6fc6" stroke-width="8.6" stroke-linecap="round"/>
<path d="M1364.69 224.5V240.5M1362.89 224.5H1366.49M1362.89 240.5H1366.49M1372.97 226.2V242.2M1371.17 226.2H1374.77M1371.17 242.2H1374.77M1381.24 226V242M1379.44 226H1383.04M1379.44 242H1383.04M1389.52 224.7V240.7M1387.72 224.7H1391.32M1387.72 240.7H1391.32M1397.79 212.7V227.3M1395.99 212.7H1399.59M1395.99 227.3H1399.59M1406.06 230.5V238.5M1404.26 230.5H1407.86M1404.26 238.5H1407.86M1414.34 229.5V247.5M1412.54 229.5H1416.14M1412.54 247.5H1416.14M1422.61 250.2V266.2M1420.81 250.2H1424.41M1420.81 266.2H1424.41M1430.89 253.8V269.8M1429.09 253.8H1432.69M1429.09 269.8H1432.69M1439.16 245.8V261.8M1437.36 245.8H1440.96M1437.36 261.8H1440.96M1447.43 242.9V258.9M1445.63 242.9H1449.23M1445.63 258.9H1449.23M1455.71 236.4V265.4M1453.91 236.4H1457.51M1453.91 265.4H1457.51M1463.98 241.8V264.4M1462.18 241.8H1465.78M1462.18 264.4H1465.78M1472.26 258.9V274.9M1470.46 258.9H1474.06M1470.46 274.9H1474.06M1480.53 233.5V266.3M1478.73 233.5H1482.33M1478.73 266.3H1482.33M1488.8 260.1V276.1M1487 260.1H1490.6M1487 276.1H1490.6M1497.08 256.5V272.5M1495.28 256.5H1498.88M1495.28 272.5H1498.88M1505.35 244.8V260.8M1503.55 244.8H1507.15M1503.55 260.8H1507.15M1513.63 244.8V260.8M1511.83 244.8H1515.43M1511.83 260.8H1515.43M1521.9 244.1V260.1M1520.1 244.1H1523.7M1520.1 260.1H1523.7M1555 242V258M1553.2 242H1556.8M1553.2 258H1556.8M1563.27 231.4V273.6M1561.47 231.4H1565.07M1561.47 273.6H1565.07M1571.54 263.9V279.9M1569.74 263.9H1573.34M1569.74 279.9H1573.34M1579.82 258.6V274.6M1578.02 258.6H1581.62M1578.02 274.6H1581.62M1588.09 249.2V280M1586.29 249.2H1589.89M1586.29 280H1589.89M1596.37 274V290M1594.57 274H1598.17M1594.57 290H1598.17M1604.64 272V288M1602.84 272H1606.44M1602.84 288H1606.44M1612.91 273V289M1611.11 273H1614.71M1611.11 289H1614.71M1621.19 260.6V276.6M1619.39 260.6H1622.99M1619.39 276.6H1622.99M1629.46 265.3V281.3M1627.66 265.3H1631.26M1627.66 281.3H1631.26" fill="none" stroke="#000" stroke-width="1.0"/>
<polyline points="1364.69,219.3 1372.97,227.6 1381.24,228.4 1389.52,221.1 1397.79,232 1406.06,237.8 1414.34,245.8 1422.61,250.9 1430.89,255.3 1439.16,246.5 1447.43,242.9 1455.71,253.1 1463.98,261.8 1472.26,263.3 1480.53,258.6 1488.8,263 1497.08,257.9 1505.35,239 1513.63,247.7 1521.9,244.1" fill="none" stroke="#cb4f1c" stroke-width="5.9" stroke-linejoin="round" stroke-linecap="round"/>
<polyline points="1555,255.2 1563.27,261.9 1571.54,257.2 1579.82,247.8 1588.09,271.9 1596.37,261.9 1604.64,273.9 1612.91,282.6 1621.19,253.2 1629.46,269.3" fill="none" stroke="#cb4f1c" stroke-width="5.9" stroke-linejoin="round" stroke-linecap="round"/>
<path d="M1364.69 219.3h0M1372.97 227.6h0M1381.24 228.4h0M1389.52 221.1h0M1397.79 232h0M1406.06 237.8h0M1414.34 245.8h0M1422.61 250.9h0M1430.89 255.3h0M1439.16 246.5h0M1447.43 242.9h0M1455.71 253.1h0M1463.98 261.8h0M1472.26 263.3h0M1480.53 258.6h0M1488.8 263h0M1497.08 257.9h0M1505.35 239h0M1513.63 247.7h0M1521.9 244.1h0M1555 255.2h0M1563.27 261.9h0M1571.54 257.2h0M1579.82 247.8h0M1588.09 271.9h0M1596.37 261.9h0M1604.64 273.9h0M1612.91 282.6h0M1621.19 253.2h0M1629.46 269.3h0" fill="none" stroke="#cb4f1c" stroke-width="8.6" stroke-linecap="round"/>
<path d="M1364.69 211.6V227.3M1362.89 211.6H1366.49M1362.89 227.3H1366.49M1372.97 219.6V235.6M1371.17 219.6H1374.77M1371.17 235.6H1374.77M1381.24 220.4V236.4M1379.44 220.4H1383.04M1379.44 236.4H1383.04M1389.52 214.9V229.1M1387.72 214.9H1391.32M1387.72 229.1H1391.32M1397.79 224V240M1395.99 224H1399.59M1395.99 240H1399.59M1406.06 234.9V245.8M1404.26 234.9H1407.86M1404.26 245.8H1407.86M1414.34 237.8V253.8M1412.54 237.8H1416.14M1412.54 253.8H1416.14M1422.61 244V258.9M1420.81 244H1424.41M1420.81 258.9H1424.41M1430.89 247.3V263.3M1429.09 247.3H1432.69M1429.09 263.3H1432.69M1439.16 238.5V254.5M1437.36 238.5H1440.96M1437.36 254.5H1440.96M1447.43 231.6V254.2M1445.63 231.6H1449.23M1445.63 254.2H1449.23M1455.71 245.1V261.1M1453.91 245.1H1457.51M1453.91 261.1H1457.51M1463.98 253.8V269.8M1462.18 253.8H1465.78M1462.18 269.8H1465.78M1472.26 255.3V271.3M1470.46 255.3H1474.06M1470.46 271.3H1474.06M1480.53 250.6V266.6M1478.73 250.6H1482.33M1478.73 266.6H1482.33M1488.8 255V271M1487 255H1490.6M1487 271H1490.6M1497.08 244.1V271.7M1495.28 244.1H1498.88M1495.28 271.7H1498.88M1505.35 221.9V256.1M1503.55 221.9H1507.15M1503.55 256.1H1507.15M1513.63 229.9V265.5M1511.83 229.9H1515.43M1511.83 265.5H1515.43M1521.9 231.7V256.5M1520.1 231.7H1523.7M1520.1 256.5H1523.7M1555 247.2V263.2M1553.2 247.2H1556.8M1553.2 263.2H1556.8M1563.27 253.9V269.9M1561.47 253.9H1565.07M1561.47 269.9H1565.07M1571.54 248.2V266.2M1569.74 248.2H1573.34M1569.74 266.2H1573.34M1579.82 234.1V261.5M1578.02 234.1H1581.62M1578.02 261.5H1581.62M1588.09 263.9V279.9M1586.29 263.9H1589.89M1586.29 279.9H1589.89M1596.37 245.8V278M1594.57 245.8H1598.17M1594.57 278H1598.17M1604.64 259.5V288.3M1602.84 259.5H1606.44M1602.84 288.3H1606.44M1612.91 274.6V290.6M1611.11 274.6H1614.71M1611.11 290.6H1614.71M1621.19 230.4V276M1619.39 230.4H1622.99M1619.39 276H1622.99M1629.46 261.3V277.3M1627.66 261.3H1631.26M1627.66 277.3H1631.26" fill="none" stroke="#000" stroke-width="1.0"/>
<polyline points="1364.69,236.4 1372.97,217.5 1381.24,245.8 1389.52,243.6 1397.79,240.7 1406.06,263.3 1414.34,250.9 1422.61,255.3 1430.89,240.7 1439.16,219.6 1447.43,266.9 1455.71,263.3 1463.98,256 1472.26,258.2 1480.53,261.5 1488.8,255 1497.08,265.9 1505.35,260.1 1513.63,260.1 1521.9,264.5" fill="none" stroke="#ebb02d" stroke-width="5.9" stroke-linejoin="round" stroke-linecap="round"/>
<polyline points="1555,245.1 1563.27,258.5 1571.54,265.9 1579.82,273.3 1588.09,278.6 1596.37,277.3 1604.64,279.3 1612.91,279.3 1621.19,260.5 1629.46,266.6" fill="none" stroke="#ebb02d" stroke-width="5.9" stroke-linejoin="round" stroke-linecap="round"/>
<path d="M1364.69 236.4h0M1372.97 217.5h0M1381.24 245.8h0M1389.52 243.6h0M1397.79 240.7h0M1406.06 263.3h0M1414.34 250.9h0M1422.61 255.3h0M1430.89 240.7h0M1439.16 219.6h0M1447.43 266.9h0M1455.71 263.3h0M1463.98 256h0M1472.26 258.2h0M1480.53 261.5h0M1488.8 255h0M1497.08 265.9h0M1505.35 260.1h0M1513.63 260.1h0M1521.9 264.5h0M1555 245.1h0M1563.27 258.5h0M1571.54 265.9h0M1579.82 273.3h0M1588.09 278.6h0M1596.37 277.3h0M1604.64 279.3h0M1612.91 279.3h0M1621.19 260.5h0M1629.46 266.6h0" fill="none" stroke="#ebb02d" stroke-width="8.6" stroke-linecap="round"/>
<path d="M1364.69 228.4V243.3M1362.89 228.4H1366.49M1362.89 243.3H1366.49M1372.97 205.5V229.5M1371.17 205.5H1374.77M1371.17 229.5H1374.77M1381.24 237.8V247.6M1379.44 237.8H1383.04M1379.44 247.6H1383.04M1389.52 235.6V251.6M1387.72 235.6H1391.32M1387.72 251.6H1391.32M1397.79 232.7V248.7M1395.99 232.7H1399.59M1395.99 248.7H1399.59M1406.06 255.3V270.9M1404.26 255.3H1407.86M1404.26 270.9H1407.86M1414.34 242.9V258.9M1412.54 242.9H1416.14M1412.54 258.9H1416.14M1422.61 247.3V263.3M1420.81 247.3H1424.41M1420.81 263.3H1424.41M1430.89 235.6V248.7M1429.09 235.6H1432.69M1429.09 248.7H1432.69M1439.16 209.5V229.7M1437.36 209.5H1440.96M1437.36 229.7H1440.96M1447.43 253.8V280M1445.63 253.8H1449.23M1445.63 280H1449.23M1455.71 255.3V271.3M1453.91 255.3H1457.51M1453.91 271.3H1457.51M1463.98 248V264M1462.18 248H1465.78M1462.18 264H1465.78M1472.26 243.6V272.8M1470.46 243.6H1474.06M1470.46 272.8H1474.06M1480.53 253.5V269.5M1478.73 253.5H1482.33M1478.73 269.5H1482.33M1488.8 240.1V269.9M1487 240.1H1490.6M1487 269.9H1490.6M1497.08 257.9V273.9M1495.28 257.9H1498.88M1495.28 273.9H1498.88M1505.35 252.1V268.1M1503.55 252.1H1507.15M1503.55 268.1H1507.15M1513.63 252.1V268.1M1511.83 252.1H1515.43M1511.83 268.1H1515.43M1521.9 256.5V272.5M1520.1 256.5H1523.7M1520.1 272.5H1523.7M1555 231.4V258.8M1553.2 231.4H1556.8M1553.2 258.8H1556.8M1563.27 250.5V266.5M1561.47 250.5H1565.07M1561.47 266.5H1565.07M1571.54 257.9V273.9M1569.74 257.9H1573.34M1569.74 273.9H1573.34M1579.82 265.3V281.3M1578.02 265.3H1581.62M1578.02 281.3H1581.62M1588.09 270.6V286.6M1586.29 270.6H1589.89M1586.29 286.6H1589.89M1596.37 269.3V285.3M1594.57 269.3H1598.17M1594.57 285.3H1598.17M1604.64 271.3V287.3M1602.84 271.3H1606.44M1602.84 287.3H1606.44M1612.91 262.6V296M1611.11 262.6H1614.71M1611.11 296H1614.71M1621.19 252.5V268.5M1619.39 252.5H1622.99M1619.39 268.5H1622.99M1629.46 244.5V288.7M1627.66 244.5H1631.26M1627.66 288.7H1631.26" fill="none" stroke="#000" stroke-width="1.0"/>
<polyline points="1364.69,232.7 1372.97,240.7 1381.24,239.3 1389.52,247.3 1397.79,242.9 1406.06,260.4 1414.34,253.1 1422.61,269.1 1430.89,277.1 1439.16,258.2 1447.43,258.9 1455.71,273.5 1463.98,268.8 1472.26,280.7 1480.53,276.8 1488.8,282.6 1497.08,275.4 1505.35,275.4 1513.63,281.9 1521.9,270.3" fill="none" stroke="#7129a0" stroke-width="5.9" stroke-linejoin="round" stroke-linecap="round"/>
<polyline points="1555,275 1563.27,279 1571.54,284 1579.82,295.3 1588.09,295.9 1596.37,295.3 1604.64,299.1 1612.91,289.5 1621.19,279.7 1629.46,294.6" fill="none" stroke="#7129a0" stroke-width="5.9" stroke-linejoin="round" stroke-linecap="round"/>
<path d="M1364.69 232.7h0M1372.97 240.7h0M1381.24 239.3h0M1389.52 247.3h0M1397.79 242.9h0M1406.06 260.4h0M1414.34 253.1h0M1422.61 269.1h0M1430.89 277.1h0M1439.16 258.2h0M1447.43 258.9h0M1455.71 273.5h0M1463.98 268.8h0M1472.26 280.7h0M1480.53 276.8h0M1488.8 282.6h0M1497.08 275.4h0M1505.35 275.4h0M1513.63 281.9h0M1521.9 270.3h0M1555 275h0M1563.27 279h0M1571.54 284h0M1579.82 295.3h0M1588.09 295.9h0M1596.37 295.3h0M1604.64 299.1h0M1612.91 289.5h0M1621.19 279.7h0M1629.46 294.6h0" fill="none" stroke="#7129a0" stroke-width="8.6" stroke-linecap="round"/>
<path d="M1364.69 229.2V236.2M1362.89 229.2H1366.49M1362.89 236.2H1366.49M1372.97 232.7V248.4M1371.17 232.7H1374.77M1371.17 248.4H1374.77M1381.24 235.8V242.8M1379.44 235.8H1383.04M1379.44 242.8H1383.04M1389.52 236.4V258.2M1387.72 236.4H1391.32M1387.72 258.2H1391.32M1397.79 232V253.8M1395.99 232H1399.59M1395.99 253.8H1399.59M1406.06 256.9V263.9M1404.26 256.9H1407.86M1404.26 263.9H1407.86M1414.34 244V262.2M1412.54 244H1416.14M1412.54 262.2H1416.14M1422.61 253.5V284.7M1420.81 253.5H1424.41M1420.81 284.7H1424.41M1430.89 261.5V292.7M1429.09 261.5H1432.69M1429.09 292.7H1432.69M1439.16 246.6V269.8M1437.36 246.6H1440.96M1437.36 269.8H1440.96M1447.43 255.4V262.4M1445.63 255.4H1449.23M1445.63 262.4H1449.23M1455.71 256.8V290.2M1453.91 256.8H1457.51M1453.91 290.2H1457.51M1463.98 255.4V282.2M1462.18 255.4H1465.78M1462.18 282.2H1465.78M1472.26 265V296.4M1470.46 265H1474.06M1470.46 296.4H1474.06M1480.53 263.7V289.9M1478.73 263.7H1482.33M1478.73 289.9H1482.33M1488.8 266.1V299.1M1487 266.1H1490.6M1487 299.1H1490.6M1497.08 259.8V291M1495.28 259.8H1498.88M1495.28 291H1498.88M1505.35 262.4V288.4M1503.55 262.4H1507.15M1503.55 288.4H1507.15M1513.63 266V297.8M1511.83 266H1515.43M1511.83 297.8H1515.43M1521.9 254.9V285.7M1520.1 254.9H1523.7M1520.1 285.7H1523.7M1555 260V290M1553.2 260H1556.8M1553.2 290H1556.8M1563.27 262.7V295.3M1561.47 262.7H1565.07M1561.47 295.3H1565.07M1571.54 268.9V299.1M1569.74 268.9H1573.34M1569.74 299.1H1573.34M1579.82 282.6V308M1578.02 282.6H1581.62M1578.02 308H1581.62M1588.09 279.3V312.5M1586.29 279.3H1589.89M1586.29 312.5H1589.89M1596.37 282.3V308.3M1594.57 282.3H1598.17M1594.57 308.3H1598.17M1604.64 284.9V313.3M1602.84 284.9H1606.44M1602.84 313.3H1606.44M1612.91 274.8V304.2M1611.11 274.8H1614.71M1611.11 304.2H1614.71M1621.19 260.9V298.5M1619.39 260.9H1622.99M1619.39 298.5H1622.99M1629.46 280.6V308.6M1627.66 280.6H1631.26M1627.66 308.6H1631.26" fill="none" stroke="#000" stroke-width="1.0"/>
</g>
<rect x="1521.9" y="64" width="33.1" height="254.8" fill="#fff" stroke="#111" stroke-width="1.2"/>
<text font-size="31.8" fill="#34611a" transform="translate(1549.4 238.33) rotate(-90) scale(0.9224 1)">SLEEP</text>
<rect x="1356.7" y="64" width="289.9" height="254.8" fill="none" stroke="#262626" stroke-width="1"/>
<path d="M1439.16 318.8v-3M1439.16 64v3M1521.9 318.8v-3M1521.9 64v3M1629.46 318.8v-3M1629.46 64v3" fill="none" stroke="#262626" stroke-width="1"/>
<text font-size="31.6" fill="#262626" transform="translate(1350.09 359.3) scale(1.0500 1)">0</text>
<text font-size="31.6" fill="#262626" transform="translate(1422.03 359.3) scale(1.0000 1)">10</text>
<text font-size="31.6" fill="#262626" transform="translate(1504.64 359.3) scale(1.0000 1)">20</text>
<text font-size="31.6" fill="#262626" transform="translate(1612.36 359.3) scale(1.0000 1)">30</text>
<text font-size="34.5" fill="#262626" transform="translate(1456.56 401.3) scale(0.9900 1)">Trials</text>
<text font-size="35.2" fill="#000" transform="translate(1444.72 54.3) scale(0.9984 1)">ITEM 5</text>
</g>
<g id="scatter1">
<circle cx="422.8" cy="838.4" r="9.05" fill="#3a6fc6"/>
<circle cx="455.4" cy="835.4" r="9.05" fill="#3a6fc6"/>
<circle cx="480" cy="838" r="9.05" fill="#3a6fc6"/>
<circle cx="486" cy="846" r="9.05" fill="#3a6fc6"/>
<circle cx="493" cy="876" r="9.05" fill="#3a6fc6"/>
<circle cx="561.6" cy="802.6" r="9.05" fill="#3a6fc6"/>
<circle cx="580" cy="802.6" r="9.05" fill="#3a6fc6"/>
<circle cx="594" cy="821" r="9.05" fill="#3a6fc6"/>
<circle cx="601" cy="845.6" r="9.05" fill="#3a6fc6"/>
<circle cx="653.6" cy="737.4" r="9.05" fill="#3a6fc6"/>
<circle cx="701" cy="854.6" r="9.05" fill="#3a6fc6"/>
<circle cx="422.8" cy="822.4" r="9.05" fill="#cb4f1c"/>
<circle cx="455.4" cy="725" r="9.05" fill="#cb4f1c"/>
<circle cx="480" cy="848" r="9.05" fill="#cb4f1c"/>
<circle cx="486" cy="859" r="9.05" fill="#cb4f1c"/>
<circle cx="493" cy="883" r="9.05" fill="#cb4f1c"/>
<circle cx="561.6" cy="790.6" r="9.05" fill="#cb4f1c"/>
<circle cx="580" cy="887" r="9.05" fill="#cb4f1c"/>
<circle cx="594" cy="814.5" r="9.05" fill="#cb4f1c"/>
<circle cx="601" cy="856" r="9.05" fill="#cb4f1c"/>
<circle cx="653.6" cy="724.6" r="9.05" fill="#cb4f1c"/>
<circle cx="701" cy="842.6" r="9.05" fill="#cb4f1c"/>
<circle cx="422.8" cy="834" r="9.05" fill="#ebb02d"/>
<circle cx="422.8" cy="859.2" r="9.05" fill="#ebb02d"/>
<circle cx="455.4" cy="731.6" r="9.05" fill="#ebb02d"/>
<circle cx="480" cy="832.6" r="9.05" fill="#ebb02d"/>
<circle cx="486" cy="842" r="9.05" fill="#ebb02d"/>
<circle cx="493" cy="712.4" r="9.05" fill="#ebb02d"/>
<circle cx="561.6" cy="822" r="9.05" fill="#ebb02d"/>
<circle cx="580" cy="765.4" r="9.05" fill="#ebb02d"/>
<circle cx="594" cy="814" r="9.05" fill="#ebb02d"/>
<circle cx="601" cy="818" r="9.05" fill="#ebb02d"/>
<circle cx="653.6" cy="831.6" r="9.05" fill="#ebb02d"/>
<circle cx="701" cy="845.6" r="9.05" fill="#ebb02d"/>
<rect x="311.2" y="475.1" width="520.1" height="516.4" fill="none" stroke="#262626" stroke-width="1"/>
<path d="M343.71 991.5v-5.2M343.71 475.1v5.2M473.73 991.5v-5.2M473.73 475.1v5.2M603.76 991.5v-5.2M603.76 475.1v5.2M733.78 991.5v-5.2M733.78 475.1v5.2M311.2 917.73h5.2M831.3 917.73h-5.2M311.2 843.96h5.2M831.3 843.96h-5.2M311.2 770.19h5.2M831.3 770.19h-5.2M311.2 696.41h5.2M831.3 696.41h-5.2M311.2 622.64h5.2M831.3 622.64h-5.2M311.2 548.87h5.2M831.3 548.87h-5.2" fill="none" stroke="#262626" stroke-width="1"/>
<text font-size="31.2" fill="#262626" transform="translate(334.53 1031.9) scale(1.0600 1)">0</text>
<text font-size="31.2" fill="#262626" transform="translate(448.15 1031.9) scale(1.0000 1)">400</text>
<text font-size="31.2" fill="#262626" transform="translate(577.94 1031.9) scale(1.0000 1)">800</text>
<text font-size="31.2" fill="#262626" transform="translate(698.68 1031.9) scale(1.0000 1)">1200</text>
<text font-size="31" fill="#262626" transform="translate(273.85 1002.9) scale(1.0000 1)">-2</text>
<text font-size="31" fill="#262626" transform="translate(273.38 929.2) scale(1.0000 1)">-1</text>
<text font-size="31" fill="#262626" transform="translate(284.23 855.5) scale(1.0000 1)">0</text>
<text font-size="31" fill="#262626" transform="translate(283.77 781.8) scale(1.0000 1)">1</text>
<text font-size="31" fill="#262626" transform="translate(284.24 708.1) scale(1.0000 1)">2</text>
<text font-size="31" fill="#262626" transform="translate(284.08 634.4) scale(1.0000 1)">3</text>
<text font-size="31" fill="#262626" transform="translate(283.15 560.7) scale(1.0000 1)">4</text>
<text font-size="31" fill="#262626" transform="translate(283.77 487) scale(1.0000 1)">5</text>
<text font-size="35.2" fill="#000" transform="translate(434.93 465.8) scale(0.9939 1)">MEMORY ITEMS</text>
<text font-size="41.2" fill="#000" transform="translate(405.13 1070.8) scale(0.9485 1)">Stimulation Count</text>
<text font-size="41.2" fill="#000" transform="translate(232.3 955.46) rotate(-90) scale(0.9495 1)">Overnight Improvement</text>
<circle cx="353.3" cy="520.2" r="9.05" fill="#3a6fc6"/>
<text font-size="26.6" fill="#000" transform="translate(376.04 529.8) scale(1.0182 1)">No Tag, No Cue</text>
<circle cx="353.3" cy="554.6" r="9.05" fill="#cb4f1c"/>
<text font-size="26.6" fill="#000" transform="translate(377.53 564.2) scale(1.0157 1)">Tag, No Cue</text>
<circle cx="353.3" cy="589.1" r="9.05" fill="#ebb02d"/>
<text font-size="26.6" fill="#000" transform="translate(377.53 598.7) scale(1.0145 1)">Tag &amp; Cue</text>
</g>
<g id="scatter2">
<path d="M936.12 902L1391.47 642" stroke="#1a1a1a" stroke-width="1.3" fill="none"/>
<circle cx="1015" cy="847" r="9.05" fill="#3a6fc6"/>
<circle cx="1015" cy="905" r="9.05" fill="#3a6fc6"/>
<circle cx="1047.6" cy="751" r="9.05" fill="#3a6fc6"/>
<circle cx="1072" cy="829" r="9.05" fill="#3a6fc6"/>
<circle cx="1078.6" cy="867" r="9.05" fill="#3a6fc6"/>
<circle cx="1085.4" cy="739" r="9.05" fill="#3a6fc6"/>
<circle cx="1154" cy="787" r="9.05" fill="#3a6fc6"/>
<circle cx="1172.4" cy="830" r="9.05" fill="#3a6fc6"/>
<circle cx="1193" cy="830.6" r="9.05" fill="#3a6fc6"/>
<circle cx="1246" cy="711" r="9.05" fill="#3a6fc6"/>
<circle cx="1187" cy="676.2" r="9.05" fill="#3a6fc6"/>
<circle cx="1293.4" cy="646.8" r="9.05" fill="#3a6fc6"/>
<circle cx="1015" cy="829.6" r="9.05" fill="#cb4f1c"/>
<circle cx="1015" cy="857.6" r="9.05" fill="#cb4f1c"/>
<circle cx="1047.6" cy="860.6" r="9.05" fill="#cb4f1c"/>
<circle cx="1072" cy="840" r="9.05" fill="#cb4f1c"/>
<circle cx="1078.6" cy="858.6" r="9.05" fill="#cb4f1c"/>
<circle cx="1085.4" cy="795" r="9.05" fill="#cb4f1c"/>
<circle cx="1154" cy="808.6" r="9.05" fill="#cb4f1c"/>
<circle cx="1172.4" cy="866" r="9.05" fill="#cb4f1c"/>
<circle cx="1193" cy="840.4" r="9.05" fill="#cb4f1c"/>
<circle cx="1246" cy="716.6" r="9.05" fill="#cb4f1c"/>
<circle cx="1187" cy="629.2" r="9.05" fill="#cb4f1c"/>
<circle cx="1293.4" cy="605.6" r="9.05" fill="#cb4f1c"/>
<circle cx="1015" cy="818.6" r="9.05" fill="#ebb02d"/>
<circle cx="1015" cy="846" r="9.05" fill="#ebb02d"/>
<circle cx="1047.6" cy="755" r="9.05" fill="#ebb02d"/>
<circle cx="1072" cy="838" r="9.05" fill="#ebb02d"/>
<circle cx="1078.6" cy="832" r="9.05" fill="#ebb02d"/>
<circle cx="1085.4" cy="788" r="9.05" fill="#ebb02d"/>
<circle cx="1154" cy="895.6" r="9.05" fill="#ebb02d"/>
<circle cx="1172.4" cy="861.6" r="9.05" fill="#ebb02d"/>
<circle cx="1193" cy="872.6" r="9.05" fill="#ebb02d"/>
<circle cx="1246" cy="848.6" r="9.05" fill="#ebb02d"/>
<circle cx="1187" cy="580" r="9.05" fill="#ebb02d"/>
<circle cx="1293.4" cy="608.6" r="9.05" fill="#ebb02d"/>
<rect x="903.6" y="475.1" width="520.4" height="516.4" fill="none" stroke="#262626" stroke-width="1"/>
<path d="M936.12 991.5v-5.2M936.12 475.1v5.2M1066.22 991.5v-5.2M1066.22 475.1v5.2M1196.33 991.5v-5.2M1196.33 475.1v5.2M1326.42 991.5v-5.2M1326.42 475.1v5.2M903.6 917.73h5.2M1424 917.73h-5.2M903.6 843.96h5.2M1424 843.96h-5.2M903.6 770.19h5.2M1424 770.19h-5.2M903.6 696.41h5.2M1424 696.41h-5.2M903.6 622.64h5.2M1424 622.64h-5.2M903.6 548.87h5.2M1424 548.87h-5.2" fill="none" stroke="#262626" stroke-width="1"/>
<text font-size="31.2" fill="#262626" transform="translate(926.95 1031.9) scale(1.0600 1)">0</text>
<text font-size="31.2" fill="#262626" transform="translate(1040.64 1031.9) scale(1.0000 1)">400</text>
<text font-size="31.2" fill="#262626" transform="translate(1170.51 1031.9) scale(1.0000 1)">800</text>
<text font-size="31.2" fill="#262626" transform="translate(1291.33 1031.9) scale(1.0000 1)">1200</text>
<text font-size="31" fill="#262626" transform="translate(866.25 1002.9) scale(1.0000 1)">-2</text>
<text font-size="31" fill="#262626" transform="translate(865.78 929.2) scale(1.0000 1)">-1</text>
<text font-size="31" fill="#262626" transform="translate(876.63 855.5) scale(1.0000 1)">0</text>
<text font-size="31" fill="#262626" transform="translate(876.17 781.8) scale(1.0000 1)">1</text>
<text font-size="31" fill="#262626" transform="translate(876.63 708.1) scale(1.0000 1)">2</text>
<text font-size="31" fill="#262626" transform="translate(876.48 634.4) scale(1.0000 1)">3</text>
<text font-size="31" fill="#262626" transform="translate(875.55 560.7) scale(1.0000 1)">4</text>
<text font-size="31" fill="#262626" transform="translate(876.17 487) scale(1.0000 1)">5</text>
<text font-size="35.2" fill="#000" transform="translate(1036.57 465.8) scale(0.9761 1)">INSIGHT ITEMS</text>
<text font-size="41.2" fill="#000" transform="translate(994.43 1070.8) scale(0.9505 1)">Stimulation Count</text>
</g>
</svg></body></html>
